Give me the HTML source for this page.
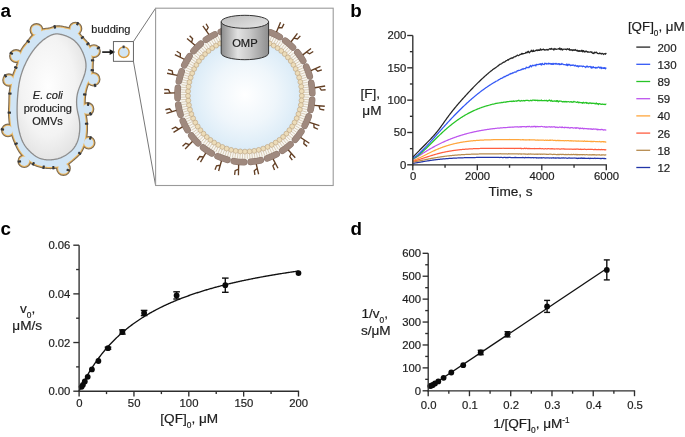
<!DOCTYPE html>
<html><head><meta charset="utf-8"><style>
html,body{margin:0;padding:0;background:#fff;}
svg{display:block;}
text{font-family:"Liberation Sans", sans-serif;}
</style></head><body>
<svg style="will-change:transform" width="685" height="437" viewBox="0 0 685 437">
<rect width="685" height="437" fill="#fff"/>
<text x="0.6" y="17" font-size="18.8" text-anchor="start" font-weight="bold" font-style="normal" fill="#000" >a</text>
<text x="350.2" y="17" font-size="18.8" text-anchor="start" font-weight="bold" font-style="normal" fill="#000" >b</text>
<text x="0.4" y="234.6" font-size="18.8" text-anchor="start" font-weight="bold" font-style="normal" fill="#000" >c</text>
<text x="350.4" y="234.6" font-size="18.8" text-anchor="start" font-weight="bold" font-style="normal" fill="#000" >d</text>
<g>
<path d="M37.2,33.63 L38,33.13 L38.79,32.63 L39.58,32.14 L40.37,31.68 L41.15,31.26 L41.95,30.89 L42.75,30.57 L43.57,30.32 L44.41,30.13 L45.29,29.98 L46.19,29.85 L47.12,29.74 L48.06,29.62 L49.01,29.47 L49.96,29.28 L50.89,29.03 L51.81,28.74 L52.69,28.44 L53.56,28.14 L54.41,27.88 L55.26,27.66 L56.12,27.51 L57,27.42 L57.88,27.38 L58.78,27.38 L59.68,27.43 L60.59,27.52 L61.5,27.64 L62.4,27.8 L63.3,27.98 L64.19,28.18 L65.08,28.4 L65.97,28.63 L66.87,28.85 L67.79,29.06 L68.72,29.26 L69.67,29.42 L70.64,29.55 L71.6,29.67 L72.52,29.79 L73.39,29.96 L74.2,30.18 L74.92,30.48 L75.57,30.89 L76.18,31.42 L76.76,32.06 L77.33,32.77 L77.89,33.53 L78.46,34.3 L79.05,35.06 L79.64,35.79 L80.24,36.51 L80.85,37.22 L81.47,37.91 L82.11,38.59 L82.74,39.27 L83.38,39.94 L84.02,40.61 L84.66,41.28 L85.28,41.95 L85.89,42.64 L86.47,43.33 L87.04,44.04 L87.58,44.76 L88.09,45.51 L88.56,46.27 L89,47.05 L89.4,47.85 L89.76,48.66 L90.07,49.49 L90.34,50.34 L90.58,51.2 L90.79,52.08 L90.97,52.98 L91.14,53.88 L91.29,54.79 L91.43,55.7 L91.56,56.61 L91.67,57.52 L91.75,58.42 L91.82,59.32 L91.85,60.22 L91.85,61.12 L91.83,62.03 L91.79,62.95 L91.74,63.87 L91.69,64.8 L91.66,65.74 L91.64,66.68 L91.63,67.62 L91.63,68.55 L91.62,69.46 L91.59,70.37 L91.53,71.26 L91.42,72.14 L91.28,73.02 L91.09,73.89 L90.85,74.76 L90.59,75.62 L90.29,76.48 L89.96,77.33 L89.61,78.17 L89.25,79.01 L88.86,79.85 L88.47,80.69 L88.08,81.53 L87.69,82.38 L87.31,83.23 L86.95,84.1 L86.6,84.98 L86.28,85.87 L85.97,86.77 L85.69,87.67 L85.43,88.58 L85.19,89.49 L84.96,90.41 L84.76,91.33 L84.58,92.26 L84.42,93.19 L84.27,94.12 L84.14,95.05 L84.03,95.99 L83.94,96.92 L83.86,97.86 L83.79,98.79 L83.74,99.73 L83.7,100.66 L83.68,101.6 L83.66,102.53 L83.65,103.47 L83.65,104.4 L83.66,105.34 L83.67,106.28 L83.7,107.21 L83.74,108.15 L83.8,109.1 L83.87,110.04 L83.98,110.98 L84.1,111.91 L84.25,112.85 L84.42,113.77 L84.6,114.69 L84.79,115.6 L84.97,116.5 L85.14,117.4 L85.29,118.3 L85.42,119.2 L85.54,120.11 L85.63,121.02 L85.72,121.93 L85.78,122.84 L85.84,123.76 L85.88,124.68 L85.91,125.6 L85.93,126.51 L85.94,127.43 L85.93,128.35 L85.92,129.26 L85.89,130.18 L85.84,131.1 L85.79,132.01 L85.72,132.93 L85.63,133.84 L85.53,134.75 L85.42,135.66 L85.29,136.56 L85.15,137.46 L84.98,138.36 L84.8,139.25 L84.61,140.14 L84.4,141.03 L84.16,141.91 L83.92,142.79 L83.65,143.67 L83.36,144.54 L83.06,145.41 L82.74,146.27 L82.39,147.12 L82.03,147.96 L81.64,148.78 L81.22,149.59 L80.78,150.38 L80.32,151.14 L79.82,151.89 L79.29,152.6 L78.74,153.29 L78.14,153.96 L77.52,154.61 L76.88,155.24 L76.21,155.87 L75.52,156.48 L74.83,157.09 L74.13,157.7 L73.42,158.31 L72.72,158.92 L72.02,159.53 L71.32,160.13 L70.62,160.72 L69.91,161.3 L69.2,161.87 L68.48,162.42 L67.74,162.95 L66.98,163.46 L66.21,163.94 L65.42,164.39 L64.62,164.8 L63.81,165.17 L62.98,165.5 L62.15,165.78 L61.29,166.01 L60.42,166.19 L59.53,166.34 L58.63,166.46 L57.72,166.57 L56.8,166.67 L55.89,166.76 L54.97,166.84 L54.06,166.91 L53.15,166.96 L52.23,167 L51.32,167.02 L50.4,167.03 L49.48,167.01 L48.57,166.98 L47.66,166.93 L46.75,166.86 L45.84,166.77 L44.94,166.65 L44.04,166.51 L43.15,166.35 L42.26,166.17 L41.37,165.97 L40.49,165.74 L39.61,165.5 L38.73,165.24 L37.86,164.97 L36.99,164.68 L36.14,164.36 L35.3,164.03 L34.48,163.66 L33.69,163.26 L32.92,162.82 L32.17,162.34 L31.43,161.82 L30.7,161.28 L29.97,160.72 L29.25,160.14 L28.54,159.56 L27.83,158.97 L27.14,158.37 L26.45,157.77 L25.77,157.16 L25.1,156.53 L24.44,155.9 L23.79,155.25 L23.16,154.59 L22.56,153.92 L21.97,153.23 L21.41,152.53 L20.88,151.8 L20.37,151.06 L19.88,150.3 L19.42,149.52 L18.98,148.73 L18.55,147.92 L18.14,147.11 L17.74,146.28 L17.35,145.44 L16.97,144.6 L16.6,143.75 L16.22,142.9 L15.86,142.04 L15.5,141.19 L15.15,140.34 L14.81,139.48 L14.47,138.63 L14.15,137.77 L13.85,136.91 L13.55,136.04 L13.27,135.18 L13,134.3 L12.76,133.43 L12.52,132.54 L12.3,131.65 L12.1,130.76 L11.9,129.86 L11.72,128.96 L11.55,128.06 L11.39,127.15 L11.24,126.24 L11.09,125.33 L10.96,124.42 L10.84,123.51 L10.72,122.6 L10.62,121.69 L10.52,120.77 L10.43,119.85 L10.35,118.94 L10.27,118.02 L10.21,117.1 L10.16,116.18 L10.11,115.27 L10.08,114.35 L10.06,113.43 L10.05,112.52 L10.05,111.6 L10.07,110.68 L10.09,109.76 L10.12,108.84 L10.16,107.91 L10.19,106.99 L10.23,106.06 L10.27,105.14 L10.31,104.21 L10.34,103.27 L10.37,102.34 L10.39,101.41 L10.41,100.48 L10.42,99.55 L10.44,98.63 L10.46,97.7 L10.49,96.78 L10.52,95.86 L10.56,94.95 L10.62,94.03 L10.69,93.12 L10.78,92.21 L10.87,91.3 L10.99,90.39 L11.11,89.48 L11.24,88.57 L11.38,87.66 L11.53,86.75 L11.68,85.84 L11.85,84.93 L12.01,84.02 L12.19,83.11 L12.37,82.21 L12.56,81.31 L12.76,80.42 L12.98,79.53 L13.2,78.64 L13.45,77.76 L13.7,76.89 L13.97,76.01 L14.26,75.14 L14.56,74.28 L14.87,73.41 L15.2,72.55 L15.53,71.7 L15.87,70.84 L16.23,69.98 L16.58,69.12 L16.94,68.26 L17.28,67.39 L17.62,66.5 L17.93,65.61 L18.22,64.71 L18.48,63.8 L18.71,62.89 L18.92,61.98 L19.12,61.06 L19.31,60.15 L19.5,59.24 L19.69,58.34 L19.9,57.44 L20.12,56.54 L20.36,55.65 L20.63,54.77 L20.91,53.91 L21.22,53.05 L21.55,52.22 L21.91,51.4 L22.31,50.6 L22.73,49.83 L23.2,49.07 L23.69,48.33 L24.21,47.6 L24.76,46.88 L25.33,46.16 L25.91,45.45 L26.5,44.73 L27.1,44.01 L27.69,43.27 L28.28,42.53 L28.86,41.77 L29.42,41 L29.97,40.24 L30.51,39.48 L31.05,38.75 L31.61,38.05 L32.19,37.38 L32.79,36.76 L33.43,36.18 L34.12,35.64 L34.85,35.13 L35.61,34.63 L36.4,34.13 L37.2,33.64Z" fill="#d1e5f5" stroke="#7d6b52" stroke-width="4.2" stroke-linejoin="round"/>
<circle cx="36.5" cy="30.0" r="4.85" fill="#d1e5f5" stroke="#7d6b52" stroke-width="4.2"/>
<circle cx="75.4" cy="28.7" r="4.85" fill="#d1e5f5" stroke="#7d6b52" stroke-width="4.2"/>
<circle cx="93.9" cy="51.2" r="4.85" fill="#d1e5f5" stroke="#7d6b52" stroke-width="4.2"/>
<circle cx="93.2" cy="79.2" r="5.2" fill="#d1e5f5" stroke="#7d6b52" stroke-width="4.2"/>
<circle cx="87.45" cy="109.0" r="4.8" fill="#d1e5f5" stroke="#7d6b52" stroke-width="4.2"/>
<circle cx="88.7" cy="142.8" r="4.7" fill="#d1e5f5" stroke="#7d6b52" stroke-width="4.2"/>
<circle cx="63.45" cy="168.5" r="5.3" fill="#d1e5f5" stroke="#7d6b52" stroke-width="4.2"/>
<circle cx="24.3" cy="161.2" r="4.8" fill="#d1e5f5" stroke="#7d6b52" stroke-width="4.2"/>
<circle cx="7.95" cy="130.45" r="4.8" fill="#d1e5f5" stroke="#7d6b52" stroke-width="4.2"/>
<circle cx="8.9" cy="80.0" r="4.6" fill="#d1e5f5" stroke="#7d6b52" stroke-width="4.2"/>
<circle cx="16.1" cy="56.1" r="4.95" fill="#d1e5f5" stroke="#7d6b52" stroke-width="4.2"/>
<path d="M37.2,33.63 L38,33.13 L38.79,32.63 L39.58,32.14 L40.37,31.68 L41.15,31.26 L41.95,30.89 L42.75,30.57 L43.57,30.32 L44.41,30.13 L45.29,29.98 L46.19,29.85 L47.12,29.74 L48.06,29.62 L49.01,29.47 L49.96,29.28 L50.89,29.03 L51.81,28.74 L52.69,28.44 L53.56,28.14 L54.41,27.88 L55.26,27.66 L56.12,27.51 L57,27.42 L57.88,27.38 L58.78,27.38 L59.68,27.43 L60.59,27.52 L61.5,27.64 L62.4,27.8 L63.3,27.98 L64.19,28.18 L65.08,28.4 L65.97,28.63 L66.87,28.85 L67.79,29.06 L68.72,29.26 L69.67,29.42 L70.64,29.55 L71.6,29.67 L72.52,29.79 L73.39,29.96 L74.2,30.18 L74.92,30.48 L75.57,30.89 L76.18,31.42 L76.76,32.06 L77.33,32.77 L77.89,33.53 L78.46,34.3 L79.05,35.06 L79.64,35.79 L80.24,36.51 L80.85,37.22 L81.47,37.91 L82.11,38.59 L82.74,39.27 L83.38,39.94 L84.02,40.61 L84.66,41.28 L85.28,41.95 L85.89,42.64 L86.47,43.33 L87.04,44.04 L87.58,44.76 L88.09,45.51 L88.56,46.27 L89,47.05 L89.4,47.85 L89.76,48.66 L90.07,49.49 L90.34,50.34 L90.58,51.2 L90.79,52.08 L90.97,52.98 L91.14,53.88 L91.29,54.79 L91.43,55.7 L91.56,56.61 L91.67,57.52 L91.75,58.42 L91.82,59.32 L91.85,60.22 L91.85,61.12 L91.83,62.03 L91.79,62.95 L91.74,63.87 L91.69,64.8 L91.66,65.74 L91.64,66.68 L91.63,67.62 L91.63,68.55 L91.62,69.46 L91.59,70.37 L91.53,71.26 L91.42,72.14 L91.28,73.02 L91.09,73.89 L90.85,74.76 L90.59,75.62 L90.29,76.48 L89.96,77.33 L89.61,78.17 L89.25,79.01 L88.86,79.85 L88.47,80.69 L88.08,81.53 L87.69,82.38 L87.31,83.23 L86.95,84.1 L86.6,84.98 L86.28,85.87 L85.97,86.77 L85.69,87.67 L85.43,88.58 L85.19,89.49 L84.96,90.41 L84.76,91.33 L84.58,92.26 L84.42,93.19 L84.27,94.12 L84.14,95.05 L84.03,95.99 L83.94,96.92 L83.86,97.86 L83.79,98.79 L83.74,99.73 L83.7,100.66 L83.68,101.6 L83.66,102.53 L83.65,103.47 L83.65,104.4 L83.66,105.34 L83.67,106.28 L83.7,107.21 L83.74,108.15 L83.8,109.1 L83.87,110.04 L83.98,110.98 L84.1,111.91 L84.25,112.85 L84.42,113.77 L84.6,114.69 L84.79,115.6 L84.97,116.5 L85.14,117.4 L85.29,118.3 L85.42,119.2 L85.54,120.11 L85.63,121.02 L85.72,121.93 L85.78,122.84 L85.84,123.76 L85.88,124.68 L85.91,125.6 L85.93,126.51 L85.94,127.43 L85.93,128.35 L85.92,129.26 L85.89,130.18 L85.84,131.1 L85.79,132.01 L85.72,132.93 L85.63,133.84 L85.53,134.75 L85.42,135.66 L85.29,136.56 L85.15,137.46 L84.98,138.36 L84.8,139.25 L84.61,140.14 L84.4,141.03 L84.16,141.91 L83.92,142.79 L83.65,143.67 L83.36,144.54 L83.06,145.41 L82.74,146.27 L82.39,147.12 L82.03,147.96 L81.64,148.78 L81.22,149.59 L80.78,150.38 L80.32,151.14 L79.82,151.89 L79.29,152.6 L78.74,153.29 L78.14,153.96 L77.52,154.61 L76.88,155.24 L76.21,155.87 L75.52,156.48 L74.83,157.09 L74.13,157.7 L73.42,158.31 L72.72,158.92 L72.02,159.53 L71.32,160.13 L70.62,160.72 L69.91,161.3 L69.2,161.87 L68.48,162.42 L67.74,162.95 L66.98,163.46 L66.21,163.94 L65.42,164.39 L64.62,164.8 L63.81,165.17 L62.98,165.5 L62.15,165.78 L61.29,166.01 L60.42,166.19 L59.53,166.34 L58.63,166.46 L57.72,166.57 L56.8,166.67 L55.89,166.76 L54.97,166.84 L54.06,166.91 L53.15,166.96 L52.23,167 L51.32,167.02 L50.4,167.03 L49.48,167.01 L48.57,166.98 L47.66,166.93 L46.75,166.86 L45.84,166.77 L44.94,166.65 L44.04,166.51 L43.15,166.35 L42.26,166.17 L41.37,165.97 L40.49,165.74 L39.61,165.5 L38.73,165.24 L37.86,164.97 L36.99,164.68 L36.14,164.36 L35.3,164.03 L34.48,163.66 L33.69,163.26 L32.92,162.82 L32.17,162.34 L31.43,161.82 L30.7,161.28 L29.97,160.72 L29.25,160.14 L28.54,159.56 L27.83,158.97 L27.14,158.37 L26.45,157.77 L25.77,157.16 L25.1,156.53 L24.44,155.9 L23.79,155.25 L23.16,154.59 L22.56,153.92 L21.97,153.23 L21.41,152.53 L20.88,151.8 L20.37,151.06 L19.88,150.3 L19.42,149.52 L18.98,148.73 L18.55,147.92 L18.14,147.11 L17.74,146.28 L17.35,145.44 L16.97,144.6 L16.6,143.75 L16.22,142.9 L15.86,142.04 L15.5,141.19 L15.15,140.34 L14.81,139.48 L14.47,138.63 L14.15,137.77 L13.85,136.91 L13.55,136.04 L13.27,135.18 L13,134.3 L12.76,133.43 L12.52,132.54 L12.3,131.65 L12.1,130.76 L11.9,129.86 L11.72,128.96 L11.55,128.06 L11.39,127.15 L11.24,126.24 L11.09,125.33 L10.96,124.42 L10.84,123.51 L10.72,122.6 L10.62,121.69 L10.52,120.77 L10.43,119.85 L10.35,118.94 L10.27,118.02 L10.21,117.1 L10.16,116.18 L10.11,115.27 L10.08,114.35 L10.06,113.43 L10.05,112.52 L10.05,111.6 L10.07,110.68 L10.09,109.76 L10.12,108.84 L10.16,107.91 L10.19,106.99 L10.23,106.06 L10.27,105.14 L10.31,104.21 L10.34,103.27 L10.37,102.34 L10.39,101.41 L10.41,100.48 L10.42,99.55 L10.44,98.63 L10.46,97.7 L10.49,96.78 L10.52,95.86 L10.56,94.95 L10.62,94.03 L10.69,93.12 L10.78,92.21 L10.87,91.3 L10.99,90.39 L11.11,89.48 L11.24,88.57 L11.38,87.66 L11.53,86.75 L11.68,85.84 L11.85,84.93 L12.01,84.02 L12.19,83.11 L12.37,82.21 L12.56,81.31 L12.76,80.42 L12.98,79.53 L13.2,78.64 L13.45,77.76 L13.7,76.89 L13.97,76.01 L14.26,75.14 L14.56,74.28 L14.87,73.41 L15.2,72.55 L15.53,71.7 L15.87,70.84 L16.23,69.98 L16.58,69.12 L16.94,68.26 L17.28,67.39 L17.62,66.5 L17.93,65.61 L18.22,64.71 L18.48,63.8 L18.71,62.89 L18.92,61.98 L19.12,61.06 L19.31,60.15 L19.5,59.24 L19.69,58.34 L19.9,57.44 L20.12,56.54 L20.36,55.65 L20.63,54.77 L20.91,53.91 L21.22,53.05 L21.55,52.22 L21.91,51.4 L22.31,50.6 L22.73,49.83 L23.2,49.07 L23.69,48.33 L24.21,47.6 L24.76,46.88 L25.33,46.16 L25.91,45.45 L26.5,44.73 L27.1,44.01 L27.69,43.27 L28.28,42.53 L28.86,41.77 L29.42,41 L29.97,40.24 L30.51,39.48 L31.05,38.75 L31.61,38.05 L32.19,37.38 L32.79,36.76 L33.43,36.18 L34.12,35.64 L34.85,35.13 L35.61,34.63 L36.4,34.13 L37.2,33.64Z" fill="#d1e5f5" stroke="#ebb65e" stroke-width="2.0" stroke-linejoin="round"/>
<circle cx="36.5" cy="30.0" r="4.85" fill="#d1e5f5" stroke="#ebb65e" stroke-width="2.0"/>
<circle cx="75.4" cy="28.7" r="4.85" fill="#d1e5f5" stroke="#ebb65e" stroke-width="2.0"/>
<circle cx="93.9" cy="51.2" r="4.85" fill="#d1e5f5" stroke="#ebb65e" stroke-width="2.0"/>
<circle cx="93.2" cy="79.2" r="5.2" fill="#d1e5f5" stroke="#ebb65e" stroke-width="2.0"/>
<circle cx="87.45" cy="109.0" r="4.8" fill="#d1e5f5" stroke="#ebb65e" stroke-width="2.0"/>
<circle cx="88.7" cy="142.8" r="4.7" fill="#d1e5f5" stroke="#ebb65e" stroke-width="2.0"/>
<circle cx="63.45" cy="168.5" r="5.3" fill="#d1e5f5" stroke="#ebb65e" stroke-width="2.0"/>
<circle cx="24.3" cy="161.2" r="4.8" fill="#d1e5f5" stroke="#ebb65e" stroke-width="2.0"/>
<circle cx="7.95" cy="130.45" r="4.8" fill="#d1e5f5" stroke="#ebb65e" stroke-width="2.0"/>
<circle cx="8.9" cy="80.0" r="4.6" fill="#d1e5f5" stroke="#ebb65e" stroke-width="2.0"/>
<circle cx="16.1" cy="56.1" r="4.95" fill="#d1e5f5" stroke="#ebb65e" stroke-width="2.0"/>
<path d="M37.2,33.63 L38,33.13 L38.79,32.63 L39.58,32.14 L40.37,31.68 L41.15,31.26 L41.95,30.89 L42.75,30.57 L43.57,30.32 L44.41,30.13 L45.29,29.98 L46.19,29.85 L47.12,29.74 L48.06,29.62 L49.01,29.47 L49.96,29.28 L50.89,29.03 L51.81,28.74 L52.69,28.44 L53.56,28.14 L54.41,27.88 L55.26,27.66 L56.12,27.51 L57,27.42 L57.88,27.38 L58.78,27.38 L59.68,27.43 L60.59,27.52 L61.5,27.64 L62.4,27.8 L63.3,27.98 L64.19,28.18 L65.08,28.4 L65.97,28.63 L66.87,28.85 L67.79,29.06 L68.72,29.26 L69.67,29.42 L70.64,29.55 L71.6,29.67 L72.52,29.79 L73.39,29.96 L74.2,30.18 L74.92,30.48 L75.57,30.89 L76.18,31.42 L76.76,32.06 L77.33,32.77 L77.89,33.53 L78.46,34.3 L79.05,35.06 L79.64,35.79 L80.24,36.51 L80.85,37.22 L81.47,37.91 L82.11,38.59 L82.74,39.27 L83.38,39.94 L84.02,40.61 L84.66,41.28 L85.28,41.95 L85.89,42.64 L86.47,43.33 L87.04,44.04 L87.58,44.76 L88.09,45.51 L88.56,46.27 L89,47.05 L89.4,47.85 L89.76,48.66 L90.07,49.49 L90.34,50.34 L90.58,51.2 L90.79,52.08 L90.97,52.98 L91.14,53.88 L91.29,54.79 L91.43,55.7 L91.56,56.61 L91.67,57.52 L91.75,58.42 L91.82,59.32 L91.85,60.22 L91.85,61.12 L91.83,62.03 L91.79,62.95 L91.74,63.87 L91.69,64.8 L91.66,65.74 L91.64,66.68 L91.63,67.62 L91.63,68.55 L91.62,69.46 L91.59,70.37 L91.53,71.26 L91.42,72.14 L91.28,73.02 L91.09,73.89 L90.85,74.76 L90.59,75.62 L90.29,76.48 L89.96,77.33 L89.61,78.17 L89.25,79.01 L88.86,79.85 L88.47,80.69 L88.08,81.53 L87.69,82.38 L87.31,83.23 L86.95,84.1 L86.6,84.98 L86.28,85.87 L85.97,86.77 L85.69,87.67 L85.43,88.58 L85.19,89.49 L84.96,90.41 L84.76,91.33 L84.58,92.26 L84.42,93.19 L84.27,94.12 L84.14,95.05 L84.03,95.99 L83.94,96.92 L83.86,97.86 L83.79,98.79 L83.74,99.73 L83.7,100.66 L83.68,101.6 L83.66,102.53 L83.65,103.47 L83.65,104.4 L83.66,105.34 L83.67,106.28 L83.7,107.21 L83.74,108.15 L83.8,109.1 L83.87,110.04 L83.98,110.98 L84.1,111.91 L84.25,112.85 L84.42,113.77 L84.6,114.69 L84.79,115.6 L84.97,116.5 L85.14,117.4 L85.29,118.3 L85.42,119.2 L85.54,120.11 L85.63,121.02 L85.72,121.93 L85.78,122.84 L85.84,123.76 L85.88,124.68 L85.91,125.6 L85.93,126.51 L85.94,127.43 L85.93,128.35 L85.92,129.26 L85.89,130.18 L85.84,131.1 L85.79,132.01 L85.72,132.93 L85.63,133.84 L85.53,134.75 L85.42,135.66 L85.29,136.56 L85.15,137.46 L84.98,138.36 L84.8,139.25 L84.61,140.14 L84.4,141.03 L84.16,141.91 L83.92,142.79 L83.65,143.67 L83.36,144.54 L83.06,145.41 L82.74,146.27 L82.39,147.12 L82.03,147.96 L81.64,148.78 L81.22,149.59 L80.78,150.38 L80.32,151.14 L79.82,151.89 L79.29,152.6 L78.74,153.29 L78.14,153.96 L77.52,154.61 L76.88,155.24 L76.21,155.87 L75.52,156.48 L74.83,157.09 L74.13,157.7 L73.42,158.31 L72.72,158.92 L72.02,159.53 L71.32,160.13 L70.62,160.72 L69.91,161.3 L69.2,161.87 L68.48,162.42 L67.74,162.95 L66.98,163.46 L66.21,163.94 L65.42,164.39 L64.62,164.8 L63.81,165.17 L62.98,165.5 L62.15,165.78 L61.29,166.01 L60.42,166.19 L59.53,166.34 L58.63,166.46 L57.72,166.57 L56.8,166.67 L55.89,166.76 L54.97,166.84 L54.06,166.91 L53.15,166.96 L52.23,167 L51.32,167.02 L50.4,167.03 L49.48,167.01 L48.57,166.98 L47.66,166.93 L46.75,166.86 L45.84,166.77 L44.94,166.65 L44.04,166.51 L43.15,166.35 L42.26,166.17 L41.37,165.97 L40.49,165.74 L39.61,165.5 L38.73,165.24 L37.86,164.97 L36.99,164.68 L36.14,164.36 L35.3,164.03 L34.48,163.66 L33.69,163.26 L32.92,162.82 L32.17,162.34 L31.43,161.82 L30.7,161.28 L29.97,160.72 L29.25,160.14 L28.54,159.56 L27.83,158.97 L27.14,158.37 L26.45,157.77 L25.77,157.16 L25.1,156.53 L24.44,155.9 L23.79,155.25 L23.16,154.59 L22.56,153.92 L21.97,153.23 L21.41,152.53 L20.88,151.8 L20.37,151.06 L19.88,150.3 L19.42,149.52 L18.98,148.73 L18.55,147.92 L18.14,147.11 L17.74,146.28 L17.35,145.44 L16.97,144.6 L16.6,143.75 L16.22,142.9 L15.86,142.04 L15.5,141.19 L15.15,140.34 L14.81,139.48 L14.47,138.63 L14.15,137.77 L13.85,136.91 L13.55,136.04 L13.27,135.18 L13,134.3 L12.76,133.43 L12.52,132.54 L12.3,131.65 L12.1,130.76 L11.9,129.86 L11.72,128.96 L11.55,128.06 L11.39,127.15 L11.24,126.24 L11.09,125.33 L10.96,124.42 L10.84,123.51 L10.72,122.6 L10.62,121.69 L10.52,120.77 L10.43,119.85 L10.35,118.94 L10.27,118.02 L10.21,117.1 L10.16,116.18 L10.11,115.27 L10.08,114.35 L10.06,113.43 L10.05,112.52 L10.05,111.6 L10.07,110.68 L10.09,109.76 L10.12,108.84 L10.16,107.91 L10.19,106.99 L10.23,106.06 L10.27,105.14 L10.31,104.21 L10.34,103.27 L10.37,102.34 L10.39,101.41 L10.41,100.48 L10.42,99.55 L10.44,98.63 L10.46,97.7 L10.49,96.78 L10.52,95.86 L10.56,94.95 L10.62,94.03 L10.69,93.12 L10.78,92.21 L10.87,91.3 L10.99,90.39 L11.11,89.48 L11.24,88.57 L11.38,87.66 L11.53,86.75 L11.68,85.84 L11.85,84.93 L12.01,84.02 L12.19,83.11 L12.37,82.21 L12.56,81.31 L12.76,80.42 L12.98,79.53 L13.2,78.64 L13.45,77.76 L13.7,76.89 L13.97,76.01 L14.26,75.14 L14.56,74.28 L14.87,73.41 L15.2,72.55 L15.53,71.7 L15.87,70.84 L16.23,69.98 L16.58,69.12 L16.94,68.26 L17.28,67.39 L17.62,66.5 L17.93,65.61 L18.22,64.71 L18.48,63.8 L18.71,62.89 L18.92,61.98 L19.12,61.06 L19.31,60.15 L19.5,59.24 L19.69,58.34 L19.9,57.44 L20.12,56.54 L20.36,55.65 L20.63,54.77 L20.91,53.91 L21.22,53.05 L21.55,52.22 L21.91,51.4 L22.31,50.6 L22.73,49.83 L23.2,49.07 L23.69,48.33 L24.21,47.6 L24.76,46.88 L25.33,46.16 L25.91,45.45 L26.5,44.73 L27.1,44.01 L27.69,43.27 L28.28,42.53 L28.86,41.77 L29.42,41 L29.97,40.24 L30.51,39.48 L31.05,38.75 L31.61,38.05 L32.19,37.38 L32.79,36.76 L33.43,36.18 L34.12,35.64 L34.85,35.13 L35.61,34.63 L36.4,34.13 L37.2,33.64Z" fill="#d1e5f5"/>
<circle cx="36.5" cy="30.0" r="4.85" fill="#d1e5f5"/>
<circle cx="75.4" cy="28.7" r="4.85" fill="#d1e5f5"/>
<circle cx="93.9" cy="51.2" r="4.85" fill="#d1e5f5"/>
<circle cx="93.2" cy="79.2" r="5.2" fill="#d1e5f5"/>
<circle cx="87.45" cy="109.0" r="4.8" fill="#d1e5f5"/>
<circle cx="88.7" cy="142.8" r="4.7" fill="#d1e5f5"/>
<circle cx="63.45" cy="168.5" r="5.3" fill="#d1e5f5"/>
<circle cx="24.3" cy="161.2" r="4.8" fill="#d1e5f5"/>
<circle cx="7.95" cy="130.45" r="4.8" fill="#d1e5f5"/>
<circle cx="8.9" cy="80.0" r="4.6" fill="#d1e5f5"/>
<circle cx="16.1" cy="56.1" r="4.95" fill="#d1e5f5"/>
</g>
<defs><radialGradient id="cyto" cx="0.45" cy="0.42" r="0.6"><stop offset="0" stop-color="#fefefe"/><stop offset="0.65" stop-color="#f3f3f3"/><stop offset="1" stop-color="#e3e3e3"/></radialGradient><radialGradient id="ves" cx="0.5" cy="0.5" r="0.5"><stop offset="0" stop-color="#ffffff"/><stop offset="0.55" stop-color="#eff6fb"/><stop offset="1" stop-color="#daebf7"/></radialGradient><linearGradient id="cyl" x1="0" x2="1" y1="0" y2="0"><stop offset="0" stop-color="#8c8c8c"/><stop offset="0.35" stop-color="#e2e2e2"/><stop offset="0.6" stop-color="#c8c8c8"/><stop offset="1" stop-color="#8e8e8e"/></linearGradient><linearGradient id="cyltop" x1="0" x2="1" y1="0" y2="1"><stop offset="0" stop-color="#bdbdbd"/><stop offset="1" stop-color="#e6e6e6"/></linearGradient></defs>
<path d="M56.5,33.9 L57.29,33.9 L58.08,33.94 L58.87,34.03 L59.66,34.15 L60.45,34.31 L61.24,34.5 L62.03,34.7 L62.81,34.93 L63.59,35.16 L64.36,35.41 L65.13,35.67 L65.89,35.93 L66.64,36.21 L67.38,36.51 L68.12,36.82 L68.84,37.15 L69.56,37.5 L70.26,37.87 L70.96,38.26 L71.64,38.68 L72.31,39.12 L72.96,39.59 L73.6,40.07 L74.23,40.58 L74.84,41.1 L75.43,41.65 L76.01,42.2 L76.57,42.78 L77.11,43.37 L77.64,43.98 L78.15,44.6 L78.64,45.23 L79.11,45.88 L79.57,46.54 L80.01,47.21 L80.44,47.89 L80.84,48.58 L81.24,49.27 L81.61,49.98 L81.97,50.69 L82.32,51.41 L82.65,52.14 L82.97,52.88 L83.28,53.62 L83.57,54.36 L83.86,55.11 L84.13,55.87 L84.39,56.63 L84.64,57.39 L84.87,58.16 L85.09,58.93 L85.29,59.71 L85.46,60.49 L85.61,61.28 L85.74,62.07 L85.84,62.86 L85.92,63.66 L85.96,64.46 L85.98,65.26 L85.98,66.06 L85.95,66.86 L85.89,67.67 L85.81,68.47 L85.71,69.26 L85.59,70.06 L85.45,70.85 L85.28,71.63 L85.1,72.41 L84.9,73.19 L84.68,73.96 L84.45,74.72 L84.2,75.49 L83.94,76.25 L83.67,77 L83.39,77.75 L83.11,78.5 L82.81,79.24 L82.51,79.98 L82.21,80.72 L81.9,81.46 L81.59,82.2 L81.27,82.93 L80.96,83.67 L80.65,84.41 L80.35,85.14 L80.04,85.89 L79.75,86.63 L79.45,87.38 L79.17,88.13 L78.9,88.88 L78.64,89.64 L78.38,90.4 L78.15,91.17 L77.92,91.93 L77.71,92.71 L77.52,93.48 L77.35,94.26 L77.19,95.05 L77.06,95.84 L76.94,96.63 L76.84,97.42 L76.76,98.22 L76.7,99.02 L76.65,99.82 L76.62,100.62 L76.6,101.42 L76.6,102.22 L76.61,103.03 L76.64,103.83 L76.68,104.63 L76.73,105.43 L76.79,106.23 L76.87,107.02 L76.97,107.82 L77.08,108.61 L77.2,109.4 L77.33,110.19 L77.48,110.97 L77.64,111.76 L77.81,112.54 L77.99,113.32 L78.17,114.1 L78.34,114.88 L78.52,115.66 L78.69,116.44 L78.85,117.23 L79,118.01 L79.14,118.8 L79.27,119.59 L79.38,120.38 L79.48,121.18 L79.56,121.98 L79.64,122.77 L79.7,123.57 L79.74,124.37 L79.78,125.17 L79.8,125.97 L79.81,126.77 L79.8,127.57 L79.79,128.37 L79.76,129.17 L79.72,129.97 L79.66,130.77 L79.59,131.57 L79.51,132.37 L79.41,133.16 L79.31,133.96 L79.18,134.75 L79.05,135.54 L78.9,136.33 L78.73,137.11 L78.55,137.89 L78.35,138.67 L78.13,139.44 L77.89,140.2 L77.63,140.96 L77.36,141.71 L77.06,142.46 L76.73,143.2 L76.39,143.92 L76.02,144.64 L75.64,145.34 L75.23,146.04 L74.8,146.71 L74.35,147.38 L73.87,148.02 L73.38,148.65 L72.86,149.26 L72.32,149.86 L71.77,150.44 L71.2,151 L70.61,151.54 L70,152.07 L69.38,152.58 L68.75,153.08 L68.11,153.56 L67.45,154.03 L66.79,154.49 L66.12,154.93 L65.44,155.35 L64.75,155.76 L64.05,156.15 L63.34,156.53 L62.62,156.88 L61.89,157.22 L61.16,157.54 L60.42,157.83 L59.66,158.11 L58.9,158.36 L58.14,158.6 L57.37,158.82 L56.59,159.01 L55.8,159.18 L55.02,159.34 L54.22,159.47 L53.43,159.59 L52.63,159.69 L51.83,159.76 L51.03,159.82 L50.23,159.86 L49.43,159.87 L48.63,159.87 L47.83,159.84 L47.03,159.8 L46.23,159.73 L45.43,159.64 L44.63,159.52 L43.84,159.38 L43.05,159.22 L42.27,159.04 L41.49,158.82 L40.72,158.59 L39.96,158.33 L39.21,158.04 L38.47,157.73 L37.75,157.39 L37.04,157.02 L36.34,156.63 L35.66,156.21 L35,155.76 L34.35,155.3 L33.71,154.81 L33.09,154.31 L32.47,153.79 L31.86,153.26 L31.27,152.72 L30.68,152.17 L30.09,151.61 L29.52,151.05 L28.95,150.47 L28.39,149.89 L27.85,149.3 L27.31,148.7 L26.79,148.1 L26.28,147.48 L25.79,146.85 L25.32,146.21 L24.86,145.55 L24.43,144.88 L24.01,144.2 L23.61,143.51 L23.24,142.81 L22.87,142.09 L22.53,141.37 L22.2,140.64 L21.89,139.9 L21.59,139.15 L21.31,138.39 L21.04,137.64 L20.78,136.87 L20.53,136.11 L20.3,135.34 L20.07,134.57 L19.85,133.8 L19.65,133.02 L19.45,132.25 L19.26,131.47 L19.08,130.69 L18.91,129.91 L18.75,129.12 L18.6,128.34 L18.46,127.55 L18.32,126.76 L18.2,125.97 L18.08,125.18 L17.97,124.39 L17.87,123.6 L17.77,122.8 L17.69,122.01 L17.61,121.21 L17.53,120.41 L17.47,119.62 L17.41,118.82 L17.35,118.02 L17.3,117.22 L17.26,116.42 L17.23,115.62 L17.19,114.82 L17.17,114.02 L17.14,113.22 L17.13,112.42 L17.11,111.62 L17.1,110.82 L17.1,110.02 L17.1,109.22 L17.11,108.42 L17.11,107.62 L17.13,106.82 L17.14,106.02 L17.16,105.22 L17.19,104.42 L17.21,103.62 L17.24,102.82 L17.28,102.02 L17.32,101.22 L17.36,100.42 L17.4,99.63 L17.45,98.83 L17.5,98.03 L17.55,97.23 L17.61,96.43 L17.67,95.64 L17.74,94.84 L17.81,94.04 L17.88,93.24 L17.95,92.45 L18.03,91.65 L18.11,90.85 L18.2,90.06 L18.29,89.26 L18.39,88.47 L18.49,87.67 L18.59,86.88 L18.71,86.09 L18.82,85.29 L18.95,84.5 L19.08,83.71 L19.22,82.93 L19.37,82.14 L19.53,81.36 L19.69,80.57 L19.86,79.79 L20.04,79.01 L20.23,78.24 L20.43,77.46 L20.64,76.69 L20.85,75.91 L21.07,75.15 L21.3,74.38 L21.54,73.61 L21.79,72.85 L22.04,72.09 L22.3,71.33 L22.57,70.58 L22.85,69.83 L23.13,69.08 L23.42,68.33 L23.72,67.59 L24.02,66.85 L24.34,66.11 L24.66,65.38 L24.98,64.65 L25.32,63.92 L25.66,63.2 L26,62.47 L26.36,61.76 L26.72,61.04 L27.09,60.33 L27.46,59.63 L27.84,58.92 L28.23,58.22 L28.63,57.53 L29.03,56.84 L29.44,56.15 L29.86,55.47 L30.28,54.79 L30.72,54.11 L31.16,53.44 L31.61,52.78 L32.06,52.12 L32.52,51.47 L33,50.82 L33.47,50.17 L33.96,49.54 L34.46,48.9 L34.96,48.28 L35.47,47.66 L35.99,47.05 L36.51,46.45 L37.05,45.85 L37.59,45.26 L38.14,44.68 L38.69,44.11 L39.26,43.55 L39.83,42.99 L40.4,42.45 L40.99,41.91 L41.59,41.38 L42.2,40.87 L42.81,40.36 L43.44,39.86 L44.08,39.37 L44.73,38.89 L45.39,38.42 L46.06,37.96 L46.75,37.51 L47.45,37.07 L48.16,36.65 L48.88,36.24 L49.61,35.86 L50.35,35.51 L51.09,35.18 L51.85,34.88 L52.61,34.61 L53.38,34.39 L54.15,34.2 L54.93,34.05 L55.71,33.95 L56.5,33.9Z" fill="url(#cyto)" stroke="#8d8d8d" stroke-width="1.3"/>
<rect x="-1.7" y="-1.1" width="3.4" height="2.2" rx="0.5" fill="#34373b" transform="translate(54.8,26.9) rotate(78.53)"/>
<rect x="-1.7" y="-1.1" width="3.4" height="2.2" rx="0.5" fill="#34373b" transform="translate(77.6,23.7) rotate(-66.25)"/>
<rect x="-1.7" y="-1.1" width="3.4" height="2.2" rx="0.5" fill="#34373b" transform="translate(82.4,37.5) rotate(137.9)"/>
<rect x="-1.7" y="-1.1" width="3.4" height="2.2" rx="0.5" fill="#34373b" transform="translate(87.8,43.8) rotate(142.79)"/>
<rect x="-1.7" y="-1.1" width="3.4" height="2.2" rx="0.5" fill="#34373b" transform="translate(98.4,47.9) rotate(-36.25)"/>
<rect x="-1.7" y="-1.1" width="3.4" height="2.2" rx="0.5" fill="#34373b" transform="translate(92.6,60.3) rotate(178.7)"/>
<rect x="-1.7" y="-1.1" width="3.4" height="2.2" rx="0.5" fill="#34373b" transform="translate(92.3,70.2) rotate(183.83)"/>
<rect x="-1.7" y="-1.1" width="3.4" height="2.2" rx="0.5" fill="#34373b" transform="translate(95,85.4) rotate(73.81)"/>
<rect x="-1.7" y="-1.1" width="3.4" height="2.2" rx="0.5" fill="#34373b" transform="translate(84.7,94.5) rotate(188.39)"/>
<rect x="-1.7" y="-1.1" width="3.4" height="2.2" rx="0.5" fill="#34373b" transform="translate(88.2,104.2) rotate(-81.12)"/>
<rect x="-1.7" y="-1.1" width="3.4" height="2.2" rx="0.5" fill="#34373b" transform="translate(90.6,113.8) rotate(56.73)"/>
<rect x="-1.7" y="-1.1" width="3.4" height="2.2" rx="0.5" fill="#34373b" transform="translate(86.6,123.7) rotate(176.92)"/>
<rect x="-1.7" y="-1.1" width="3.4" height="2.2" rx="0.5" fill="#34373b" transform="translate(90.4,138) rotate(-70.5)"/>
<rect x="-1.7" y="-1.1" width="3.4" height="2.2" rx="0.5" fill="#34373b" transform="translate(79.7,153.3) rotate(217.62)"/>
<rect x="-1.7" y="-1.1" width="3.4" height="2.2" rx="0.5" fill="#34373b" transform="translate(68.2,170.1) rotate(18.62)"/>
<rect x="-1.7" y="-1.1" width="3.4" height="2.2" rx="0.5" fill="#34373b" transform="translate(53.4,167.7) rotate(267.18)"/>
<rect x="-1.7" y="-1.1" width="3.4" height="2.2" rx="0.5" fill="#34373b" transform="translate(43.6,167.2) rotate(-80.59)"/>
<rect x="-1.7" y="-1.1" width="3.4" height="2.2" rx="0.5" fill="#34373b" transform="translate(33.3,163.8) rotate(-61.61)"/>
<rect x="-1.7" y="-1.1" width="3.4" height="2.2" rx="0.5" fill="#34373b" transform="translate(19.4,161.5) rotate(176.5)"/>
<rect x="-1.7" y="-1.1" width="3.4" height="2.2" rx="0.5" fill="#34373b" transform="translate(16.1,143.7) rotate(-23.77)"/>
<rect x="-1.7" y="-1.1" width="3.4" height="2.2" rx="0.5" fill="#34373b" transform="translate(2.4,129.4) rotate(-169.29)"/>
<rect x="-1.7" y="-1.1" width="3.4" height="2.2" rx="0.5" fill="#34373b" transform="translate(9.3,112.6) rotate(-0.24)"/>
<rect x="-1.7" y="-1.1" width="3.4" height="2.2" rx="0.5" fill="#34373b" transform="translate(9.9,93.6) rotate(4.05)"/>
<rect x="-1.7" y="-1.1" width="3.4" height="2.2" rx="0.5" fill="#34373b" transform="translate(5.4,75.8) rotate(-129.81)"/>
<rect x="-1.7" y="-1.1" width="3.4" height="2.2" rx="0.5" fill="#34373b" transform="translate(15.8,67.5) rotate(21.49)"/>
<rect x="-1.7" y="-1.1" width="3.4" height="2.2" rx="0.5" fill="#34373b" transform="translate(11.3,53.3) rotate(-149.74)"/>
<rect x="-1.7" y="-1.1" width="3.4" height="2.2" rx="0.5" fill="#34373b" transform="translate(28.2,41.4) rotate(37.03)"/>
<text x="47.8" y="98.9" font-size="11" text-anchor="middle" font-weight="normal" font-style="italic" fill="#1e1e1e"  stroke="#1e1e1e" stroke-width="0.2">E. coli</text>
<text x="47.8" y="112" font-size="11" text-anchor="middle" font-weight="normal" font-style="normal" fill="#1e1e1e"  stroke="#1e1e1e" stroke-width="0.2">producing</text>
<text x="47.6" y="125.1" font-size="11" text-anchor="middle" font-weight="normal" font-style="normal" fill="#1e1e1e"  stroke="#1e1e1e" stroke-width="0.2">OMVs</text>
<text x="91.3" y="32.5" font-size="11" text-anchor="start" font-weight="normal" font-style="normal" fill="#1e1e1e"  stroke="#1e1e1e" stroke-width="0.2">budding</text>
<line x1="102.2" y1="52.1" x2="110.5" y2="52.1" stroke="#111" stroke-width="1.6" />
<path d="M115.2,52.1 L109.6,49.3 L109.6,54.9 Z" fill="#111"/>
<rect x="113.4" y="41.6" width="20" height="19.7" fill="none" stroke="#555" stroke-width="0.9"/>
<circle cx="123.8" cy="52.2" r="5.3" fill="#d1e5f5" stroke="#d99b3e" stroke-width="1.4"/>
<rect x="-1.4" y="-1.1" width="2.8" height="2.2" rx="0.5" fill="#3d4044" transform="translate(123.6,46.9) rotate(-90)"/>
<line x1="133.4" y1="41.6" x2="155.6" y2="8.2" stroke="#666" stroke-width="0.9" />
<line x1="133.4" y1="61.3" x2="155.6" y2="185.5" stroke="#666" stroke-width="0.9" />
<rect x="155.6" y="8.2" width="177.6" height="177.3" fill="none" stroke="#9a9a9a" stroke-width="1.1"/>
<circle cx="244.9" cy="94.7" r="56" fill="url(#ves)"/>
<circle cx="244.9" cy="94.7" r="61.4" fill="none" stroke="#f8f6f1" stroke-width="6.4"/>
<line x1="303.5" y1="94.7" x2="309.1" y2="94.7" stroke="#cdbfa6" stroke-width="0.75"/>
<line x1="303.45" y1="97" x2="309.05" y2="97.22" stroke="#cdbfa6" stroke-width="0.75"/>
<line x1="303.32" y1="99.3" x2="308.9" y2="99.74" stroke="#cdbfa6" stroke-width="0.75"/>
<line x1="303.09" y1="101.59" x2="308.65" y2="102.25" stroke="#cdbfa6" stroke-width="0.75"/>
<line x1="302.78" y1="103.87" x2="308.31" y2="104.74" stroke="#cdbfa6" stroke-width="0.75"/>
<line x1="302.37" y1="106.13" x2="307.87" y2="107.22" stroke="#cdbfa6" stroke-width="0.75"/>
<line x1="301.88" y1="108.38" x2="307.33" y2="109.69" stroke="#cdbfa6" stroke-width="0.75"/>
<line x1="301.3" y1="110.61" x2="306.69" y2="112.13" stroke="#cdbfa6" stroke-width="0.75"/>
<line x1="300.63" y1="112.81" x2="305.96" y2="114.54" stroke="#cdbfa6" stroke-width="0.75"/>
<line x1="299.88" y1="114.98" x2="305.13" y2="116.92" stroke="#cdbfa6" stroke-width="0.75"/>
<line x1="299.04" y1="117.13" x2="304.21" y2="119.27" stroke="#cdbfa6" stroke-width="0.75"/>
<line x1="298.12" y1="119.23" x2="303.2" y2="121.58" stroke="#cdbfa6" stroke-width="0.75"/>
<line x1="297.11" y1="121.3" x2="302.1" y2="123.85" stroke="#cdbfa6" stroke-width="0.75"/>
<line x1="296.03" y1="123.33" x2="300.91" y2="126.07" stroke="#cdbfa6" stroke-width="0.75"/>
<line x1="294.86" y1="125.32" x2="299.64" y2="128.24" stroke="#cdbfa6" stroke-width="0.75"/>
<line x1="293.62" y1="127.26" x2="298.28" y2="130.37" stroke="#cdbfa6" stroke-width="0.75"/>
<line x1="292.31" y1="129.14" x2="296.84" y2="132.44" stroke="#cdbfa6" stroke-width="0.75"/>
<line x1="290.92" y1="130.98" x2="295.32" y2="134.45" stroke="#cdbfa6" stroke-width="0.75"/>
<line x1="289.46" y1="132.76" x2="293.72" y2="136.39" stroke="#cdbfa6" stroke-width="0.75"/>
<line x1="287.93" y1="134.48" x2="292.04" y2="138.28" stroke="#cdbfa6" stroke-width="0.75"/>
<line x1="286.34" y1="136.14" x2="290.3" y2="140.1" stroke="#cdbfa6" stroke-width="0.75"/>
<line x1="284.68" y1="137.73" x2="288.48" y2="141.84" stroke="#cdbfa6" stroke-width="0.75"/>
<line x1="282.96" y1="139.26" x2="286.59" y2="143.52" stroke="#cdbfa6" stroke-width="0.75"/>
<line x1="281.18" y1="140.72" x2="284.65" y2="145.12" stroke="#cdbfa6" stroke-width="0.75"/>
<line x1="279.34" y1="142.11" x2="282.64" y2="146.64" stroke="#cdbfa6" stroke-width="0.75"/>
<line x1="277.46" y1="143.42" x2="280.57" y2="148.08" stroke="#cdbfa6" stroke-width="0.75"/>
<line x1="275.52" y1="144.66" x2="278.44" y2="149.44" stroke="#cdbfa6" stroke-width="0.75"/>
<line x1="273.53" y1="145.83" x2="276.27" y2="150.71" stroke="#cdbfa6" stroke-width="0.75"/>
<line x1="271.5" y1="146.91" x2="274.05" y2="151.9" stroke="#cdbfa6" stroke-width="0.75"/>
<line x1="269.43" y1="147.92" x2="271.78" y2="153" stroke="#cdbfa6" stroke-width="0.75"/>
<line x1="267.33" y1="148.84" x2="269.47" y2="154.01" stroke="#cdbfa6" stroke-width="0.75"/>
<line x1="265.18" y1="149.68" x2="267.12" y2="154.93" stroke="#cdbfa6" stroke-width="0.75"/>
<line x1="263.01" y1="150.43" x2="264.74" y2="155.76" stroke="#cdbfa6" stroke-width="0.75"/>
<line x1="260.81" y1="151.1" x2="262.33" y2="156.49" stroke="#cdbfa6" stroke-width="0.75"/>
<line x1="258.58" y1="151.68" x2="259.89" y2="157.13" stroke="#cdbfa6" stroke-width="0.75"/>
<line x1="256.33" y1="152.17" x2="257.42" y2="157.67" stroke="#cdbfa6" stroke-width="0.75"/>
<line x1="254.07" y1="152.58" x2="254.94" y2="158.11" stroke="#cdbfa6" stroke-width="0.75"/>
<line x1="251.79" y1="152.89" x2="252.45" y2="158.45" stroke="#cdbfa6" stroke-width="0.75"/>
<line x1="249.5" y1="153.12" x2="249.94" y2="158.7" stroke="#cdbfa6" stroke-width="0.75"/>
<line x1="247.2" y1="153.25" x2="247.42" y2="158.85" stroke="#cdbfa6" stroke-width="0.75"/>
<line x1="244.9" y1="153.3" x2="244.9" y2="158.9" stroke="#cdbfa6" stroke-width="0.75"/>
<line x1="242.6" y1="153.25" x2="242.38" y2="158.85" stroke="#cdbfa6" stroke-width="0.75"/>
<line x1="240.3" y1="153.12" x2="239.86" y2="158.7" stroke="#cdbfa6" stroke-width="0.75"/>
<line x1="238.01" y1="152.89" x2="237.35" y2="158.45" stroke="#cdbfa6" stroke-width="0.75"/>
<line x1="235.73" y1="152.58" x2="234.86" y2="158.11" stroke="#cdbfa6" stroke-width="0.75"/>
<line x1="233.47" y1="152.17" x2="232.38" y2="157.67" stroke="#cdbfa6" stroke-width="0.75"/>
<line x1="231.22" y1="151.68" x2="229.91" y2="157.13" stroke="#cdbfa6" stroke-width="0.75"/>
<line x1="228.99" y1="151.1" x2="227.47" y2="156.49" stroke="#cdbfa6" stroke-width="0.75"/>
<line x1="226.79" y1="150.43" x2="225.06" y2="155.76" stroke="#cdbfa6" stroke-width="0.75"/>
<line x1="224.62" y1="149.68" x2="222.68" y2="154.93" stroke="#cdbfa6" stroke-width="0.75"/>
<line x1="222.47" y1="148.84" x2="220.33" y2="154.01" stroke="#cdbfa6" stroke-width="0.75"/>
<line x1="220.37" y1="147.92" x2="218.02" y2="153" stroke="#cdbfa6" stroke-width="0.75"/>
<line x1="218.3" y1="146.91" x2="215.75" y2="151.9" stroke="#cdbfa6" stroke-width="0.75"/>
<line x1="216.27" y1="145.83" x2="213.53" y2="150.71" stroke="#cdbfa6" stroke-width="0.75"/>
<line x1="214.28" y1="144.66" x2="211.36" y2="149.44" stroke="#cdbfa6" stroke-width="0.75"/>
<line x1="212.34" y1="143.42" x2="209.23" y2="148.08" stroke="#cdbfa6" stroke-width="0.75"/>
<line x1="210.46" y1="142.11" x2="207.16" y2="146.64" stroke="#cdbfa6" stroke-width="0.75"/>
<line x1="208.62" y1="140.72" x2="205.15" y2="145.12" stroke="#cdbfa6" stroke-width="0.75"/>
<line x1="206.84" y1="139.26" x2="203.21" y2="143.52" stroke="#cdbfa6" stroke-width="0.75"/>
<line x1="205.12" y1="137.73" x2="201.32" y2="141.84" stroke="#cdbfa6" stroke-width="0.75"/>
<line x1="203.46" y1="136.14" x2="199.5" y2="140.1" stroke="#cdbfa6" stroke-width="0.75"/>
<line x1="201.87" y1="134.48" x2="197.76" y2="138.28" stroke="#cdbfa6" stroke-width="0.75"/>
<line x1="200.34" y1="132.76" x2="196.08" y2="136.39" stroke="#cdbfa6" stroke-width="0.75"/>
<line x1="198.88" y1="130.98" x2="194.48" y2="134.45" stroke="#cdbfa6" stroke-width="0.75"/>
<line x1="197.49" y1="129.14" x2="192.96" y2="132.44" stroke="#cdbfa6" stroke-width="0.75"/>
<line x1="196.18" y1="127.26" x2="191.52" y2="130.37" stroke="#cdbfa6" stroke-width="0.75"/>
<line x1="194.94" y1="125.32" x2="190.16" y2="128.24" stroke="#cdbfa6" stroke-width="0.75"/>
<line x1="193.77" y1="123.33" x2="188.89" y2="126.07" stroke="#cdbfa6" stroke-width="0.75"/>
<line x1="192.69" y1="121.3" x2="187.7" y2="123.85" stroke="#cdbfa6" stroke-width="0.75"/>
<line x1="191.68" y1="119.23" x2="186.6" y2="121.58" stroke="#cdbfa6" stroke-width="0.75"/>
<line x1="190.76" y1="117.13" x2="185.59" y2="119.27" stroke="#cdbfa6" stroke-width="0.75"/>
<line x1="189.92" y1="114.98" x2="184.67" y2="116.92" stroke="#cdbfa6" stroke-width="0.75"/>
<line x1="189.17" y1="112.81" x2="183.84" y2="114.54" stroke="#cdbfa6" stroke-width="0.75"/>
<line x1="188.5" y1="110.61" x2="183.11" y2="112.13" stroke="#cdbfa6" stroke-width="0.75"/>
<line x1="187.92" y1="108.38" x2="182.47" y2="109.69" stroke="#cdbfa6" stroke-width="0.75"/>
<line x1="187.43" y1="106.13" x2="181.93" y2="107.22" stroke="#cdbfa6" stroke-width="0.75"/>
<line x1="187.02" y1="103.87" x2="181.49" y2="104.74" stroke="#cdbfa6" stroke-width="0.75"/>
<line x1="186.71" y1="101.59" x2="181.15" y2="102.25" stroke="#cdbfa6" stroke-width="0.75"/>
<line x1="186.48" y1="99.3" x2="180.9" y2="99.74" stroke="#cdbfa6" stroke-width="0.75"/>
<line x1="186.35" y1="97" x2="180.75" y2="97.22" stroke="#cdbfa6" stroke-width="0.75"/>
<line x1="186.3" y1="94.7" x2="180.7" y2="94.7" stroke="#cdbfa6" stroke-width="0.75"/>
<line x1="186.35" y1="92.4" x2="180.75" y2="92.18" stroke="#cdbfa6" stroke-width="0.75"/>
<line x1="186.48" y1="90.1" x2="180.9" y2="89.66" stroke="#cdbfa6" stroke-width="0.75"/>
<line x1="186.71" y1="87.81" x2="181.15" y2="87.15" stroke="#cdbfa6" stroke-width="0.75"/>
<line x1="187.02" y1="85.53" x2="181.49" y2="84.66" stroke="#cdbfa6" stroke-width="0.75"/>
<line x1="187.43" y1="83.27" x2="181.93" y2="82.18" stroke="#cdbfa6" stroke-width="0.75"/>
<line x1="187.92" y1="81.02" x2="182.47" y2="79.71" stroke="#cdbfa6" stroke-width="0.75"/>
<line x1="188.5" y1="78.79" x2="183.11" y2="77.27" stroke="#cdbfa6" stroke-width="0.75"/>
<line x1="189.17" y1="76.59" x2="183.84" y2="74.86" stroke="#cdbfa6" stroke-width="0.75"/>
<line x1="189.92" y1="74.42" x2="184.67" y2="72.48" stroke="#cdbfa6" stroke-width="0.75"/>
<line x1="190.76" y1="72.27" x2="185.59" y2="70.13" stroke="#cdbfa6" stroke-width="0.75"/>
<line x1="191.68" y1="70.17" x2="186.6" y2="67.82" stroke="#cdbfa6" stroke-width="0.75"/>
<line x1="192.69" y1="68.1" x2="187.7" y2="65.55" stroke="#cdbfa6" stroke-width="0.75"/>
<line x1="193.77" y1="66.07" x2="188.89" y2="63.33" stroke="#cdbfa6" stroke-width="0.75"/>
<line x1="194.94" y1="64.08" x2="190.16" y2="61.16" stroke="#cdbfa6" stroke-width="0.75"/>
<line x1="196.18" y1="62.14" x2="191.52" y2="59.03" stroke="#cdbfa6" stroke-width="0.75"/>
<line x1="197.49" y1="60.26" x2="192.96" y2="56.96" stroke="#cdbfa6" stroke-width="0.75"/>
<line x1="198.88" y1="58.42" x2="194.48" y2="54.95" stroke="#cdbfa6" stroke-width="0.75"/>
<line x1="200.34" y1="56.64" x2="196.08" y2="53.01" stroke="#cdbfa6" stroke-width="0.75"/>
<line x1="201.87" y1="54.92" x2="197.76" y2="51.12" stroke="#cdbfa6" stroke-width="0.75"/>
<line x1="203.46" y1="53.26" x2="199.5" y2="49.3" stroke="#cdbfa6" stroke-width="0.75"/>
<line x1="205.12" y1="51.67" x2="201.32" y2="47.56" stroke="#cdbfa6" stroke-width="0.75"/>
<line x1="206.84" y1="50.14" x2="203.21" y2="45.88" stroke="#cdbfa6" stroke-width="0.75"/>
<line x1="208.62" y1="48.68" x2="205.15" y2="44.28" stroke="#cdbfa6" stroke-width="0.75"/>
<line x1="210.46" y1="47.29" x2="207.16" y2="42.76" stroke="#cdbfa6" stroke-width="0.75"/>
<line x1="212.34" y1="45.98" x2="209.23" y2="41.32" stroke="#cdbfa6" stroke-width="0.75"/>
<line x1="214.28" y1="44.74" x2="211.36" y2="39.96" stroke="#cdbfa6" stroke-width="0.75"/>
<line x1="216.27" y1="43.57" x2="213.53" y2="38.69" stroke="#cdbfa6" stroke-width="0.75"/>
<line x1="218.3" y1="42.49" x2="215.75" y2="37.5" stroke="#cdbfa6" stroke-width="0.75"/>
<line x1="220.37" y1="41.48" x2="218.02" y2="36.4" stroke="#cdbfa6" stroke-width="0.75"/>
<line x1="222.47" y1="40.56" x2="220.33" y2="35.39" stroke="#cdbfa6" stroke-width="0.75"/>
<line x1="224.62" y1="39.72" x2="222.68" y2="34.47" stroke="#cdbfa6" stroke-width="0.75"/>
<line x1="226.79" y1="38.97" x2="225.06" y2="33.64" stroke="#cdbfa6" stroke-width="0.75"/>
<line x1="228.99" y1="38.3" x2="227.47" y2="32.91" stroke="#cdbfa6" stroke-width="0.75"/>
<line x1="231.22" y1="37.72" x2="229.91" y2="32.27" stroke="#cdbfa6" stroke-width="0.75"/>
<line x1="233.47" y1="37.23" x2="232.38" y2="31.73" stroke="#cdbfa6" stroke-width="0.75"/>
<line x1="235.73" y1="36.82" x2="234.86" y2="31.29" stroke="#cdbfa6" stroke-width="0.75"/>
<line x1="238.01" y1="36.51" x2="237.35" y2="30.95" stroke="#cdbfa6" stroke-width="0.75"/>
<line x1="240.3" y1="36.28" x2="239.86" y2="30.7" stroke="#cdbfa6" stroke-width="0.75"/>
<line x1="242.6" y1="36.15" x2="242.38" y2="30.55" stroke="#cdbfa6" stroke-width="0.75"/>
<line x1="244.9" y1="36.1" x2="244.9" y2="30.5" stroke="#cdbfa6" stroke-width="0.75"/>
<line x1="247.2" y1="36.15" x2="247.42" y2="30.55" stroke="#cdbfa6" stroke-width="0.75"/>
<line x1="249.5" y1="36.28" x2="249.94" y2="30.7" stroke="#cdbfa6" stroke-width="0.75"/>
<line x1="251.79" y1="36.51" x2="252.45" y2="30.95" stroke="#cdbfa6" stroke-width="0.75"/>
<line x1="254.07" y1="36.82" x2="254.94" y2="31.29" stroke="#cdbfa6" stroke-width="0.75"/>
<line x1="256.33" y1="37.23" x2="257.42" y2="31.73" stroke="#cdbfa6" stroke-width="0.75"/>
<line x1="258.58" y1="37.72" x2="259.89" y2="32.27" stroke="#cdbfa6" stroke-width="0.75"/>
<line x1="260.81" y1="38.3" x2="262.33" y2="32.91" stroke="#cdbfa6" stroke-width="0.75"/>
<line x1="263.01" y1="38.97" x2="264.74" y2="33.64" stroke="#cdbfa6" stroke-width="0.75"/>
<line x1="265.18" y1="39.72" x2="267.12" y2="34.47" stroke="#cdbfa6" stroke-width="0.75"/>
<line x1="267.33" y1="40.56" x2="269.47" y2="35.39" stroke="#cdbfa6" stroke-width="0.75"/>
<line x1="269.43" y1="41.48" x2="271.78" y2="36.4" stroke="#cdbfa6" stroke-width="0.75"/>
<line x1="271.5" y1="42.49" x2="274.05" y2="37.5" stroke="#cdbfa6" stroke-width="0.75"/>
<line x1="273.53" y1="43.57" x2="276.27" y2="38.69" stroke="#cdbfa6" stroke-width="0.75"/>
<line x1="275.52" y1="44.74" x2="278.44" y2="39.96" stroke="#cdbfa6" stroke-width="0.75"/>
<line x1="277.46" y1="45.98" x2="280.57" y2="41.32" stroke="#cdbfa6" stroke-width="0.75"/>
<line x1="279.34" y1="47.29" x2="282.64" y2="42.76" stroke="#cdbfa6" stroke-width="0.75"/>
<line x1="281.18" y1="48.68" x2="284.65" y2="44.28" stroke="#cdbfa6" stroke-width="0.75"/>
<line x1="282.96" y1="50.14" x2="286.59" y2="45.88" stroke="#cdbfa6" stroke-width="0.75"/>
<line x1="284.68" y1="51.67" x2="288.48" y2="47.56" stroke="#cdbfa6" stroke-width="0.75"/>
<line x1="286.34" y1="53.26" x2="290.3" y2="49.3" stroke="#cdbfa6" stroke-width="0.75"/>
<line x1="287.93" y1="54.92" x2="292.04" y2="51.12" stroke="#cdbfa6" stroke-width="0.75"/>
<line x1="289.46" y1="56.64" x2="293.72" y2="53.01" stroke="#cdbfa6" stroke-width="0.75"/>
<line x1="290.92" y1="58.42" x2="295.32" y2="54.95" stroke="#cdbfa6" stroke-width="0.75"/>
<line x1="292.31" y1="60.26" x2="296.84" y2="56.96" stroke="#cdbfa6" stroke-width="0.75"/>
<line x1="293.62" y1="62.14" x2="298.28" y2="59.03" stroke="#cdbfa6" stroke-width="0.75"/>
<line x1="294.86" y1="64.08" x2="299.64" y2="61.16" stroke="#cdbfa6" stroke-width="0.75"/>
<line x1="296.03" y1="66.07" x2="300.91" y2="63.33" stroke="#cdbfa6" stroke-width="0.75"/>
<line x1="297.11" y1="68.1" x2="302.1" y2="65.55" stroke="#cdbfa6" stroke-width="0.75"/>
<line x1="298.12" y1="70.17" x2="303.2" y2="67.82" stroke="#cdbfa6" stroke-width="0.75"/>
<line x1="299.04" y1="72.27" x2="304.21" y2="70.13" stroke="#cdbfa6" stroke-width="0.75"/>
<line x1="299.88" y1="74.42" x2="305.13" y2="72.48" stroke="#cdbfa6" stroke-width="0.75"/>
<line x1="300.63" y1="76.59" x2="305.96" y2="74.86" stroke="#cdbfa6" stroke-width="0.75"/>
<line x1="301.3" y1="78.79" x2="306.69" y2="77.27" stroke="#cdbfa6" stroke-width="0.75"/>
<line x1="301.88" y1="81.02" x2="307.33" y2="79.71" stroke="#cdbfa6" stroke-width="0.75"/>
<line x1="302.37" y1="83.27" x2="307.87" y2="82.18" stroke="#cdbfa6" stroke-width="0.75"/>
<line x1="302.78" y1="85.53" x2="308.31" y2="84.66" stroke="#cdbfa6" stroke-width="0.75"/>
<line x1="303.09" y1="87.81" x2="308.65" y2="87.15" stroke="#cdbfa6" stroke-width="0.75"/>
<line x1="303.32" y1="90.1" x2="308.9" y2="89.66" stroke="#cdbfa6" stroke-width="0.75"/>
<line x1="303.45" y1="92.4" x2="309.05" y2="92.18" stroke="#cdbfa6" stroke-width="0.75"/>
<circle cx="301.79" cy="95.84" r="2.45" fill="#ecdcb9" stroke="#b89e78" stroke-width="0.6"/>
<circle cx="301.51" cy="100.47" r="2.45" fill="#ecdcb9" stroke="#b89e78" stroke-width="0.6"/>
<circle cx="300.85" cy="105.07" r="2.45" fill="#ecdcb9" stroke="#b89e78" stroke-width="0.6"/>
<circle cx="299.82" cy="109.59" r="2.45" fill="#ecdcb9" stroke="#b89e78" stroke-width="0.6"/>
<circle cx="298.42" cy="114.02" r="2.45" fill="#ecdcb9" stroke="#b89e78" stroke-width="0.6"/>
<circle cx="296.67" cy="118.32" r="2.45" fill="#ecdcb9" stroke="#b89e78" stroke-width="0.6"/>
<circle cx="294.57" cy="122.46" r="2.45" fill="#ecdcb9" stroke="#b89e78" stroke-width="0.6"/>
<circle cx="292.14" cy="126.41" r="2.45" fill="#ecdcb9" stroke="#b89e78" stroke-width="0.6"/>
<circle cx="289.4" cy="130.16" r="2.45" fill="#ecdcb9" stroke="#b89e78" stroke-width="0.6"/>
<circle cx="286.36" cy="133.67" r="2.45" fill="#ecdcb9" stroke="#b89e78" stroke-width="0.6"/>
<circle cx="283.05" cy="136.92" r="2.45" fill="#ecdcb9" stroke="#b89e78" stroke-width="0.6"/>
<circle cx="279.48" cy="139.89" r="2.45" fill="#ecdcb9" stroke="#b89e78" stroke-width="0.6"/>
<circle cx="275.68" cy="142.56" r="2.45" fill="#ecdcb9" stroke="#b89e78" stroke-width="0.6"/>
<circle cx="271.68" cy="144.9" r="2.45" fill="#ecdcb9" stroke="#b89e78" stroke-width="0.6"/>
<circle cx="267.5" cy="146.92" r="2.45" fill="#ecdcb9" stroke="#b89e78" stroke-width="0.6"/>
<circle cx="263.17" cy="148.59" r="2.45" fill="#ecdcb9" stroke="#b89e78" stroke-width="0.6"/>
<circle cx="258.71" cy="149.9" r="2.45" fill="#ecdcb9" stroke="#b89e78" stroke-width="0.6"/>
<circle cx="254.17" cy="150.84" r="2.45" fill="#ecdcb9" stroke="#b89e78" stroke-width="0.6"/>
<circle cx="249.56" cy="151.41" r="2.45" fill="#ecdcb9" stroke="#b89e78" stroke-width="0.6"/>
<circle cx="244.92" cy="151.6" r="2.45" fill="#ecdcb9" stroke="#b89e78" stroke-width="0.6"/>
<circle cx="240.28" cy="151.41" r="2.45" fill="#ecdcb9" stroke="#b89e78" stroke-width="0.6"/>
<circle cx="235.68" cy="150.85" r="2.45" fill="#ecdcb9" stroke="#b89e78" stroke-width="0.6"/>
<circle cx="231.13" cy="149.91" r="2.45" fill="#ecdcb9" stroke="#b89e78" stroke-width="0.6"/>
<circle cx="226.68" cy="148.6" r="2.45" fill="#ecdcb9" stroke="#b89e78" stroke-width="0.6"/>
<circle cx="222.34" cy="146.94" r="2.45" fill="#ecdcb9" stroke="#b89e78" stroke-width="0.6"/>
<circle cx="218.16" cy="144.93" r="2.45" fill="#ecdcb9" stroke="#b89e78" stroke-width="0.6"/>
<circle cx="214.16" cy="142.58" r="2.45" fill="#ecdcb9" stroke="#b89e78" stroke-width="0.6"/>
<circle cx="210.36" cy="139.91" r="2.45" fill="#ecdcb9" stroke="#b89e78" stroke-width="0.6"/>
<circle cx="206.79" cy="136.95" r="2.45" fill="#ecdcb9" stroke="#b89e78" stroke-width="0.6"/>
<circle cx="203.47" cy="133.7" r="2.45" fill="#ecdcb9" stroke="#b89e78" stroke-width="0.6"/>
<circle cx="200.43" cy="130.19" r="2.45" fill="#ecdcb9" stroke="#b89e78" stroke-width="0.6"/>
<circle cx="197.68" cy="126.45" r="2.45" fill="#ecdcb9" stroke="#b89e78" stroke-width="0.6"/>
<circle cx="195.25" cy="122.5" r="2.45" fill="#ecdcb9" stroke="#b89e78" stroke-width="0.6"/>
<circle cx="193.15" cy="118.36" r="2.45" fill="#ecdcb9" stroke="#b89e78" stroke-width="0.6"/>
<circle cx="191.4" cy="114.06" r="2.45" fill="#ecdcb9" stroke="#b89e78" stroke-width="0.6"/>
<circle cx="190" cy="109.64" r="2.45" fill="#ecdcb9" stroke="#b89e78" stroke-width="0.6"/>
<circle cx="188.96" cy="105.11" r="2.45" fill="#ecdcb9" stroke="#b89e78" stroke-width="0.6"/>
<circle cx="188.3" cy="100.52" r="2.45" fill="#ecdcb9" stroke="#b89e78" stroke-width="0.6"/>
<circle cx="188.01" cy="95.88" r="2.45" fill="#ecdcb9" stroke="#b89e78" stroke-width="0.6"/>
<circle cx="188.11" cy="91.24" r="2.45" fill="#ecdcb9" stroke="#b89e78" stroke-width="0.6"/>
<circle cx="188.58" cy="86.62" r="2.45" fill="#ecdcb9" stroke="#b89e78" stroke-width="0.6"/>
<circle cx="189.42" cy="82.06" r="2.45" fill="#ecdcb9" stroke="#b89e78" stroke-width="0.6"/>
<circle cx="190.64" cy="77.58" r="2.45" fill="#ecdcb9" stroke="#b89e78" stroke-width="0.6"/>
<circle cx="192.21" cy="73.21" r="2.45" fill="#ecdcb9" stroke="#b89e78" stroke-width="0.6"/>
<circle cx="194.14" cy="68.99" r="2.45" fill="#ecdcb9" stroke="#b89e78" stroke-width="0.6"/>
<circle cx="196.4" cy="64.94" r="2.45" fill="#ecdcb9" stroke="#b89e78" stroke-width="0.6"/>
<circle cx="198.99" cy="61.09" r="2.45" fill="#ecdcb9" stroke="#b89e78" stroke-width="0.6"/>
<circle cx="201.88" cy="57.46" r="2.45" fill="#ecdcb9" stroke="#b89e78" stroke-width="0.6"/>
<circle cx="205.06" cy="54.07" r="2.45" fill="#ecdcb9" stroke="#b89e78" stroke-width="0.6"/>
<circle cx="208.51" cy="50.96" r="2.45" fill="#ecdcb9" stroke="#b89e78" stroke-width="0.6"/>
<circle cx="212.19" cy="48.14" r="2.45" fill="#ecdcb9" stroke="#b89e78" stroke-width="0.6"/>
<circle cx="216.1" cy="45.63" r="2.45" fill="#ecdcb9" stroke="#b89e78" stroke-width="0.6"/>
<circle cx="220.19" cy="43.44" r="2.45" fill="#ecdcb9" stroke="#b89e78" stroke-width="0.6"/>
<circle cx="224.45" cy="41.6" r="2.45" fill="#ecdcb9" stroke="#b89e78" stroke-width="0.6"/>
<circle cx="228.85" cy="40.11" r="2.45" fill="#ecdcb9" stroke="#b89e78" stroke-width="0.6"/>
<circle cx="233.35" cy="38.98" r="2.45" fill="#ecdcb9" stroke="#b89e78" stroke-width="0.6"/>
<circle cx="237.93" cy="38.23" r="2.45" fill="#ecdcb9" stroke="#b89e78" stroke-width="0.6"/>
<circle cx="242.56" cy="37.85" r="2.45" fill="#ecdcb9" stroke="#b89e78" stroke-width="0.6"/>
<circle cx="247.2" cy="37.85" r="2.45" fill="#ecdcb9" stroke="#b89e78" stroke-width="0.6"/>
<circle cx="251.82" cy="38.22" r="2.45" fill="#ecdcb9" stroke="#b89e78" stroke-width="0.6"/>
<circle cx="256.4" cy="38.98" r="2.45" fill="#ecdcb9" stroke="#b89e78" stroke-width="0.6"/>
<circle cx="260.91" cy="40.1" r="2.45" fill="#ecdcb9" stroke="#b89e78" stroke-width="0.6"/>
<circle cx="265.31" cy="41.58" r="2.45" fill="#ecdcb9" stroke="#b89e78" stroke-width="0.6"/>
<circle cx="269.57" cy="43.43" r="2.45" fill="#ecdcb9" stroke="#b89e78" stroke-width="0.6"/>
<circle cx="273.66" cy="45.61" r="2.45" fill="#ecdcb9" stroke="#b89e78" stroke-width="0.6"/>
<circle cx="277.57" cy="48.11" r="2.45" fill="#ecdcb9" stroke="#b89e78" stroke-width="0.6"/>
<circle cx="281.26" cy="50.93" r="2.45" fill="#ecdcb9" stroke="#b89e78" stroke-width="0.6"/>
<circle cx="284.71" cy="54.04" r="2.45" fill="#ecdcb9" stroke="#b89e78" stroke-width="0.6"/>
<circle cx="287.89" cy="57.42" r="2.45" fill="#ecdcb9" stroke="#b89e78" stroke-width="0.6"/>
<circle cx="290.78" cy="61.05" r="2.45" fill="#ecdcb9" stroke="#b89e78" stroke-width="0.6"/>
<circle cx="293.37" cy="64.9" r="2.45" fill="#ecdcb9" stroke="#b89e78" stroke-width="0.6"/>
<circle cx="295.64" cy="68.95" r="2.45" fill="#ecdcb9" stroke="#b89e78" stroke-width="0.6"/>
<circle cx="297.57" cy="73.17" r="2.45" fill="#ecdcb9" stroke="#b89e78" stroke-width="0.6"/>
<circle cx="299.15" cy="77.54" r="2.45" fill="#ecdcb9" stroke="#b89e78" stroke-width="0.6"/>
<circle cx="300.37" cy="82.02" r="2.45" fill="#ecdcb9" stroke="#b89e78" stroke-width="0.6"/>
<circle cx="301.22" cy="86.58" r="2.45" fill="#ecdcb9" stroke="#b89e78" stroke-width="0.6"/>
<circle cx="301.69" cy="91.2" r="2.45" fill="#ecdcb9" stroke="#b89e78" stroke-width="0.6"/>
<path d="M205.93,39.71 A67.4,67.4 0 0 1 214.85,34.37" fill="none" stroke="#8c766b" stroke-width="6.6" stroke-linecap="round"/>
<path d="M205.93,39.71 A67.4,67.4 0 0 1 214.85,34.37" fill="none" stroke="#9f897e" stroke-width="5.6" stroke-linecap="round"/>
<path d="M220.83,31.74 A67.4,67.4 0 0 1 230.8,28.79" fill="none" stroke="#8c766b" stroke-width="6.6" stroke-linecap="round"/>
<path d="M220.83,31.74 A67.4,67.4 0 0 1 230.8,28.79" fill="none" stroke="#9f897e" stroke-width="5.6" stroke-linecap="round"/>
<path d="M237.25,27.74 A67.4,67.4 0 0 1 247.63,27.36" fill="none" stroke="#8c766b" stroke-width="6.6" stroke-linecap="round"/>
<path d="M237.25,27.74 A67.4,67.4 0 0 1 247.63,27.36" fill="none" stroke="#9f897e" stroke-width="5.6" stroke-linecap="round"/>
<path d="M254.14,27.94 A67.4,67.4 0 0 1 264.29,30.15" fill="none" stroke="#8c766b" stroke-width="6.6" stroke-linecap="round"/>
<path d="M254.14,27.94 A67.4,67.4 0 0 1 264.29,30.15" fill="none" stroke="#9f897e" stroke-width="5.6" stroke-linecap="round"/>
<path d="M270.45,32.33 A67.4,67.4 0 0 1 279.74,37" fill="none" stroke="#8c766b" stroke-width="6.6" stroke-linecap="round"/>
<path d="M270.45,32.33 A67.4,67.4 0 0 1 279.74,37" fill="none" stroke="#9f897e" stroke-width="5.6" stroke-linecap="round"/>
<path d="M285.16,40.65 A67.4,67.4 0 0 1 292.99,47.48" fill="none" stroke="#8c766b" stroke-width="6.6" stroke-linecap="round"/>
<path d="M285.16,40.65 A67.4,67.4 0 0 1 292.99,47.48" fill="none" stroke="#9f897e" stroke-width="5.6" stroke-linecap="round"/>
<path d="M297.34,52.36 A67.4,67.4 0 0 1 303.22,60.92" fill="none" stroke="#8c766b" stroke-width="6.6" stroke-linecap="round"/>
<path d="M297.34,52.36 A67.4,67.4 0 0 1 303.22,60.92" fill="none" stroke="#9f897e" stroke-width="5.6" stroke-linecap="round"/>
<path d="M306.22,66.73 A67.4,67.4 0 0 1 309.79,76.48" fill="none" stroke="#8c766b" stroke-width="6.6" stroke-linecap="round"/>
<path d="M306.22,66.73 A67.4,67.4 0 0 1 309.79,76.48" fill="none" stroke="#9f897e" stroke-width="5.6" stroke-linecap="round"/>
<path d="M311.25,82.86 A67.4,67.4 0 0 1 312.28,93.2" fill="none" stroke="#8c766b" stroke-width="6.6" stroke-linecap="round"/>
<path d="M311.25,82.86 A67.4,67.4 0 0 1 312.28,93.2" fill="none" stroke="#9f897e" stroke-width="5.6" stroke-linecap="round"/>
<path d="M312.11,99.73 A67.4,67.4 0 0 1 310.54,110" fill="none" stroke="#8c766b" stroke-width="6.6" stroke-linecap="round"/>
<path d="M312.11,99.73 A67.4,67.4 0 0 1 310.54,110" fill="none" stroke="#9f897e" stroke-width="5.6" stroke-linecap="round"/>
<path d="M308.75,116.29 A67.4,67.4 0 0 1 304.67,125.84" fill="none" stroke="#8c766b" stroke-width="6.6" stroke-linecap="round"/>
<path d="M308.75,116.29 A67.4,67.4 0 0 1 304.67,125.84" fill="none" stroke="#9f897e" stroke-width="5.6" stroke-linecap="round"/>
<path d="M301.38,131.49 A67.4,67.4 0 0 1 295.05,139.73" fill="none" stroke="#8c766b" stroke-width="6.6" stroke-linecap="round"/>
<path d="M301.38,131.49 A67.4,67.4 0 0 1 295.05,139.73" fill="none" stroke="#9f897e" stroke-width="5.6" stroke-linecap="round"/>
<path d="M290.45,144.38 A67.4,67.4 0 0 1 282.28,150.79" fill="none" stroke="#8c766b" stroke-width="6.6" stroke-linecap="round"/>
<path d="M290.45,144.38 A67.4,67.4 0 0 1 282.28,150.79" fill="none" stroke="#9f897e" stroke-width="5.6" stroke-linecap="round"/>
<path d="M276.67,154.14 A67.4,67.4 0 0 1 267.15,158.32" fill="none" stroke="#8c766b" stroke-width="6.6" stroke-linecap="round"/>
<path d="M276.67,154.14 A67.4,67.4 0 0 1 267.15,158.32" fill="none" stroke="#9f897e" stroke-width="5.6" stroke-linecap="round"/>
<path d="M260.89,160.18 A67.4,67.4 0 0 1 250.63,161.86" fill="none" stroke="#8c766b" stroke-width="6.6" stroke-linecap="round"/>
<path d="M260.89,160.18 A67.4,67.4 0 0 1 250.63,161.86" fill="none" stroke="#9f897e" stroke-width="5.6" stroke-linecap="round"/>
<path d="M244.1,162.1 A67.4,67.4 0 0 1 233.75,161.17" fill="none" stroke="#8c766b" stroke-width="6.6" stroke-linecap="round"/>
<path d="M244.1,162.1 A67.4,67.4 0 0 1 233.75,161.17" fill="none" stroke="#9f897e" stroke-width="5.6" stroke-linecap="round"/>
<path d="M227.37,159.78 A67.4,67.4 0 0 1 217.57,156.31" fill="none" stroke="#8c766b" stroke-width="6.6" stroke-linecap="round"/>
<path d="M227.37,159.78 A67.4,67.4 0 0 1 217.57,156.31" fill="none" stroke="#9f897e" stroke-width="5.6" stroke-linecap="round"/>
<path d="M211.73,153.37 A67.4,67.4 0 0 1 203.11,147.58" fill="none" stroke="#8c766b" stroke-width="6.6" stroke-linecap="round"/>
<path d="M211.73,153.37 A67.4,67.4 0 0 1 203.11,147.58" fill="none" stroke="#9f897e" stroke-width="5.6" stroke-linecap="round"/>
<path d="M198.18,143.28 A67.4,67.4 0 0 1 191.27,135.52" fill="none" stroke="#8c766b" stroke-width="6.6" stroke-linecap="round"/>
<path d="M198.18,143.28 A67.4,67.4 0 0 1 191.27,135.52" fill="none" stroke="#9f897e" stroke-width="5.6" stroke-linecap="round"/>
<path d="M187.57,130.14 A67.4,67.4 0 0 1 182.8,120.9" fill="none" stroke="#8c766b" stroke-width="6.6" stroke-linecap="round"/>
<path d="M187.57,130.14 A67.4,67.4 0 0 1 182.8,120.9" fill="none" stroke="#9f897e" stroke-width="5.6" stroke-linecap="round"/>
<path d="M180.56,114.77 A67.4,67.4 0 0 1 178.24,104.64" fill="none" stroke="#8c766b" stroke-width="6.6" stroke-linecap="round"/>
<path d="M180.56,114.77 A67.4,67.4 0 0 1 178.24,104.64" fill="none" stroke="#9f897e" stroke-width="5.6" stroke-linecap="round"/>
<path d="M177.59,98.13 A67.4,67.4 0 0 1 177.86,87.75" fill="none" stroke="#8c766b" stroke-width="6.6" stroke-linecap="round"/>
<path d="M177.59,98.13 A67.4,67.4 0 0 1 177.86,87.75" fill="none" stroke="#9f897e" stroke-width="5.6" stroke-linecap="round"/>
<path d="M178.85,81.29 A67.4,67.4 0 0 1 181.69,71.29" fill="none" stroke="#8c766b" stroke-width="6.6" stroke-linecap="round"/>
<path d="M178.85,81.29 A67.4,67.4 0 0 1 181.69,71.29" fill="none" stroke="#9f897e" stroke-width="5.6" stroke-linecap="round"/>
<path d="M184.26,65.28 A67.4,67.4 0 0 1 189.5,56.31" fill="none" stroke="#8c766b" stroke-width="6.6" stroke-linecap="round"/>
<path d="M184.26,65.28 A67.4,67.4 0 0 1 189.5,56.31" fill="none" stroke="#9f897e" stroke-width="5.6" stroke-linecap="round"/>
<path d="M193.48,51.12 A67.4,67.4 0 0 1 200.79,43.74" fill="none" stroke="#8c766b" stroke-width="6.6" stroke-linecap="round"/>
<path d="M193.48,51.12 A67.4,67.4 0 0 1 200.79,43.74" fill="none" stroke="#9f897e" stroke-width="5.6" stroke-linecap="round"/>
<path d="M208.8,34.38 L202.86,25.81 M206.32,30.62 L208.19,27.52 L206.07,23.78" fill="none" stroke="#633f24" stroke-width="1.35" stroke-linecap="butt" stroke-linejoin="miter"/>
<path d="M276.49,31.9 L280.53,22.29 M278.33,27.79 L281.95,27.71 L283.97,23.91" fill="none" stroke="#633f24" stroke-width="1.35" stroke-linecap="butt" stroke-linejoin="miter"/>
<path d="M291.11,41.72 L297.42,33.43 M293.92,38.2 L297.45,39.02 L300.35,35.85" fill="none" stroke="#633f24" stroke-width="1.35" stroke-linecap="butt" stroke-linejoin="miter"/>
<path d="M302.84,54.88 L311.01,48.41 M306.43,52.17 L309.64,53.84 L313.25,51.49" fill="none" stroke="#633f24" stroke-width="1.35" stroke-linecap="butt" stroke-linejoin="miter"/>
<path d="M310.92,70.54 L320.44,66.31 M315.08,68.81 L317.77,71.23 L321.84,69.84" fill="none" stroke="#633f24" stroke-width="1.35" stroke-linecap="butt" stroke-linejoin="miter"/>
<path d="M314.85,87.72 L325.13,85.99 M319.31,87.07 L321.32,90.09 L325.61,89.76" fill="none" stroke="#633f24" stroke-width="1.35" stroke-linecap="butt" stroke-linejoin="miter"/>
<path d="M314.39,105.33 L324.78,106.21 M318.87,105.82 L320.07,109.24 L324.3,109.99" fill="none" stroke="#633f24" stroke-width="1.35" stroke-linecap="butt" stroke-linejoin="miter"/>
<path d="M309.56,122.28 L319.4,125.72 M313.78,123.86 L314.09,127.47 L318.01,129.25" fill="none" stroke="#633f24" stroke-width="1.35" stroke-linecap="butt" stroke-linejoin="miter"/>
<path d="M300.67,137.5 L309.35,143.27 M304.36,140.08 L303.77,143.65 L307.12,146.35" fill="none" stroke="#633f24" stroke-width="1.35" stroke-linecap="butt" stroke-linejoin="miter"/>
<path d="M288.28,150.02 L295.25,157.77 M291.21,153.44 L289.74,156.75 L292.32,160.2" fill="none" stroke="#633f24" stroke-width="1.35" stroke-linecap="butt" stroke-linejoin="miter"/>
<path d="M273.16,159.07 L277.98,168.31 M275.15,163.11 L272.9,165.95 L274.54,169.93" fill="none" stroke="#633f24" stroke-width="1.35" stroke-linecap="butt" stroke-linejoin="miter"/>
<path d="M256.26,164.08 L258.63,174.23 M257.19,168.48 L254.3,170.68 L254.9,174.94" fill="none" stroke="#633f24" stroke-width="1.35" stroke-linecap="butt" stroke-linejoin="miter"/>
<path d="M238.65,164.72 L238.42,175.14 M238.45,169.22 L235.11,170.63 L234.63,174.9" fill="none" stroke="#633f24" stroke-width="1.35" stroke-linecap="butt" stroke-linejoin="miter"/>
<path d="M221.43,160.97 L218.62,171 M220.12,165.28 L216.54,165.81 L215.01,169.83" fill="none" stroke="#633f24" stroke-width="1.35" stroke-linecap="butt" stroke-linejoin="miter"/>
<path d="M205.69,153.05 L200.47,162.07 M203.35,156.9 L199.74,156.52 L197.26,160.04" fill="none" stroke="#633f24" stroke-width="1.35" stroke-linecap="butt" stroke-linejoin="miter"/>
<path d="M192.41,141.47 L185.11,148.91 M189.18,144.61 L185.79,143.35 L182.51,146.14" fill="none" stroke="#633f24" stroke-width="1.35" stroke-linecap="butt" stroke-linejoin="miter"/>
<path d="M182.43,126.94 L173.51,132.34 M178.52,129.18 L175.54,127.12 L171.68,129" fill="none" stroke="#633f24" stroke-width="1.35" stroke-linecap="butt" stroke-linejoin="miter"/>
<path d="M176.37,110.39 L166.39,113.4 M172.03,111.59 L169.66,108.85 L165.45,109.72" fill="none" stroke="#633f24" stroke-width="1.35" stroke-linecap="butt" stroke-linejoin="miter"/>
<path d="M174.62,92.86 L164.21,93.29 M170.12,92.94 L168.5,89.7 L164.21,89.49" fill="none" stroke="#633f24" stroke-width="1.35" stroke-linecap="butt" stroke-linejoin="miter"/>
<path d="M177.29,75.44 L167.1,73.26 M172.91,74.4 L172.15,70.86 L168.04,69.58" fill="none" stroke="#633f24" stroke-width="1.35" stroke-linecap="butt" stroke-linejoin="miter"/>
<path d="M184.2,59.23 L174.87,54.59 M180.22,57.13 L180.36,53.51 L176.7,51.26" fill="none" stroke="#633f24" stroke-width="1.35" stroke-linecap="butt" stroke-linejoin="miter"/>
<path d="M194.93,45.25 L187.05,38.43 M191.59,42.23 L192.63,38.76 L189.65,35.66" fill="none" stroke="#633f24" stroke-width="1.35" stroke-linecap="butt" stroke-linejoin="miter"/>
<path d="M221.2,21.8 L221.2,53.1 A23.7,6.6 0 0 0 268.6,53.1 L268.6,21.8 Z" fill="url(#cyl)" stroke="#333" stroke-width="1"/>
<ellipse cx="244.9" cy="21.8" rx="23.7" ry="6.5" fill="url(#cyltop)" stroke="#333" stroke-width="1"/>
<text x="244.9" y="46.6" font-size="11.2" text-anchor="middle" font-weight="normal" font-style="normal" fill="#1a1a1a"  stroke="#1a1a1a" stroke-width="0.2">OMP</text>
<path d="M412.8,163.29 L413.3,163.25 L413.8,163.19 L414.3,163.12 L414.8,163.05 L415.3,162.97 L415.8,162.89 L416.3,162.8 L416.8,162.72 L417.3,162.63 L417.8,162.55 L418.3,162.46 L418.8,162.37 L419.3,162.29 L419.8,162.2 L420.3,162.11 L420.8,162.02 L421.3,161.93 L421.8,161.85 L422.3,161.76 L422.8,161.67 L423.3,161.59 L423.8,161.5 L424.3,161.42 L424.8,161.33 L425.3,161.25 L425.8,161.17 L426.3,161.08 L426.8,161 L427.3,160.92 L427.8,160.85 L428.3,160.77 L428.8,160.69 L429.3,160.62 L429.8,160.54 L430.3,160.47 L430.8,160.39 L431.3,160.32 L431.8,160.25 L432.3,160.18 L432.8,160.12 L433.3,160.05 L433.8,159.98 L434.3,159.92 L434.8,159.85 L435.3,159.79 L435.8,159.73 L436.3,159.67 L436.8,159.61 L437.3,159.55 L437.8,159.49 L438.3,159.44 L438.8,159.38 L439.3,159.33 L439.8,159.28 L440.3,159.22 L440.8,159.17 L441.3,159.12 L441.8,159.07 L442.3,159.03 L442.8,158.98 L443.3,158.93 L443.8,158.89 L444.3,158.84 L444.8,158.8 L445.3,158.76 L445.8,158.72 L446.3,158.68 L446.8,158.64 L447.3,158.6 L447.8,158.56 L448.3,158.52 L448.8,158.49 L449.3,158.45 L449.8,158.42 L450.3,158.39 L450.8,158.35 L451.3,158.32 L451.8,158.29 L452.3,158.26 L452.8,158.23 L453.3,158.2 L453.8,158.17 L454.3,158.15 L454.8,158.12 L455.3,158.09 L455.8,158.07 L456.3,158.04 L456.8,158.02 L457.3,158 L457.8,157.98 L458.3,157.95 L458.8,157.93 L459.3,157.91 L459.8,157.89 L460.3,157.87 L460.8,157.85 L461.3,157.83 L461.8,157.82 L462.3,157.8 L462.8,157.78 L463.3,157.77 L463.8,157.75 L464.3,157.73 L464.8,157.72 L465.3,157.71 L465.8,157.69 L466.3,157.68 L466.8,157.67 L467.3,157.65 L467.8,157.64 L468.3,157.63 L468.8,157.62 L469.3,157.61 L469.8,157.6 L470.3,157.59 L470.8,157.58 L471.3,157.57 L471.8,157.56 L472.3,157.55 L472.8,157.54 L473.3,157.53 L473.8,157.53 L474.3,157.52 L474.8,157.51 L475.3,157.51 L475.8,157.5 L476.3,157.49 L476.8,157.49 L477.3,157.48 L477.8,157.48 L478.3,157.47 L478.8,157.47 L479.3,157.46 L479.8,157.46 L480.3,157.45 L480.8,157.45 L481.3,157.45 L481.8,157.44 L482.3,157.44 L482.8,157.44 L483.3,157.44 L483.8,157.43 L484.3,157.43 L484.8,157.43 L485.3,157.43 L485.8,157.42 L486.3,157.43 L486.8,157.43 L487.3,157.42 L487.8,157.43 L488.3,157.42 L488.8,157.42 L489.3,157.4 L489.8,157.42 L490.3,157.42 L490.8,157.41 L491.3,157.41 L491.8,157.41 L492.3,157.42 L492.8,157.44 L493.3,157.42 L493.8,157.42 L494.3,157.45 L494.8,157.45 L495.3,157.48 L495.8,157.37 L496.3,157.46 L496.8,157.42 L497.3,157.44 L497.8,157.47 L498.3,157.48 L498.8,157.48 L499.3,157.45 L499.8,157.51 L500.3,157.44 L500.8,157.45 L501.3,157.49 L501.8,157.43 L502.3,157.56 L502.8,157.51 L503.3,157.57 L503.8,157.47 L504.3,157.45 L504.8,157.48 L505.3,157.52 L505.8,157.45 L506.3,157.51 L506.8,157.49 L507.3,157.59 L507.8,157.46 L508.3,157.56 L508.8,157.46 L509.3,157.44 L509.8,157.46 L510.3,157.43 L510.8,157.53 L511.3,157.59 L511.8,157.54 L512.3,157.58 L512.8,157.66 L513.3,157.56 L513.8,157.56 L514.3,157.53 L514.8,157.42 L515.3,157.62 L515.8,157.42 L516.3,157.62 L516.8,157.57 L517.3,157.67 L517.8,157.57 L518.3,157.51 L518.8,157.62 L519.3,157.54 L519.8,157.58 L520.3,157.6 L520.8,157.59 L521.3,157.59 L521.8,157.53 L522.3,157.6 L522.8,157.41 L523.3,157.61 L523.8,157.51 L524.3,157.76 L524.8,157.78 L525.3,157.44 L525.8,157.67 L526.3,157.64 L526.8,157.55 L527.3,157.73 L527.8,157.62 L528.3,157.47 L528.8,157.65 L529.3,157.67 L529.8,157.71 L530.3,157.55 L530.8,157.78 L531.3,157.8 L531.8,157.58 L532.3,157.64 L532.8,157.71 L533.3,157.66 L533.8,157.94 L534.3,157.76 L534.8,157.62 L535.3,157.66 L535.8,157.75 L536.3,158.04 L536.8,157.74 L537.3,157.79 L537.8,157.84 L538.3,157.78 L538.8,158.06 L539.3,157.73 L539.8,157.89 L540.3,157.82 L540.8,157.88 L541.3,157.67 L541.8,158.03 L542.3,157.81 L542.8,157.83 L543.3,157.72 L543.8,157.75 L544.3,157.91 L544.8,157.97 L545.3,157.95 L545.8,158.01 L546.3,157.95 L546.8,157.88 L547.3,157.98 L547.8,157.95 L548.3,157.88 L548.8,157.98 L549.3,158.05 L549.8,157.93 L550.3,157.87 L550.8,158 L551.3,158.15 L551.8,157.9 L552.3,157.92 L552.8,157.92 L553.3,158.09 L553.8,157.73 L554.3,158 L554.8,158.1 L555.3,157.87 L555.8,158.15 L556.3,158.04 L556.8,157.91 L557.3,158.01 L557.8,157.81 L558.3,157.93 L558.8,158.22 L559.3,157.9 L559.8,158.23 L560.3,158.01 L560.8,158.14 L561.3,158.03 L561.8,157.76 L562.3,157.97 L562.8,158.07 L563.3,157.91 L563.8,157.89 L564.3,158.1 L564.8,157.99 L565.3,157.87 L565.8,157.99 L566.3,158.18 L566.8,158.03 L567.3,158.2 L567.8,158.28 L568.3,158.11 L568.8,157.97 L569.3,157.96 L569.8,158.11 L570.3,158.23 L570.8,158.16 L571.3,158.2 L571.8,158.09 L572.3,158.18 L572.8,158.09 L573.3,158.12 L573.8,158 L574.3,157.98 L574.8,158.11 L575.3,158.04 L575.8,158.07 L576.3,158.27 L576.8,158.18 L577.3,158.55 L577.8,158.31 L578.3,158.13 L578.8,158.31 L579.3,158.26 L579.8,158.14 L580.3,158.36 L580.8,158.14 L581.3,157.87 L581.8,158.34 L582.3,158.17 L582.8,158.43 L583.3,158.18 L583.8,158.12 L584.3,158.45 L584.8,158.15 L585.3,158.3 L585.8,158.46 L586.3,158.3 L586.8,158.28 L587.3,158.31 L587.8,158.41 L588.3,158.21 L588.8,158.39 L589.3,158.39 L589.8,158.61 L590.3,158.29 L590.8,158.23 L591.3,158.43 L591.8,158.3 L592.3,158.39 L592.8,158.37 L593.3,158.5 L593.8,158.29 L594.3,158.36 L594.8,158.07 L595.3,158.27 L595.8,158.57 L596.3,158.31 L596.8,158.31 L597.3,158.25 L597.8,158.47 L598.3,158.43 L598.8,158.27 L599.3,158.5 L599.8,158.46 L600.3,158.52 L600.8,158.36 L601.3,158.65 L601.8,158.49 L602.3,158.44 L602.8,158.39 L603.3,158.43 L603.8,158.57 L604.3,158.44 L604.8,158.6 L605.3,158.55 L605.8,158.65 L606.3,158.59" fill="none" stroke="#2235a8" stroke-width="1.25" stroke-linejoin="round"/>
<path d="M412.8,162 L413.3,161.96 L413.8,161.9 L414.3,161.84 L414.8,161.76 L415.3,161.68 L415.8,161.6 L416.3,161.51 L416.8,161.42 L417.3,161.33 L417.8,161.23 L418.3,161.14 L418.8,161.04 L419.3,160.94 L419.8,160.84 L420.3,160.73 L420.8,160.63 L421.3,160.53 L421.8,160.42 L422.3,160.32 L422.8,160.21 L423.3,160.11 L423.8,160 L424.3,159.9 L424.8,159.79 L425.3,159.69 L425.8,159.59 L426.3,159.48 L426.8,159.38 L427.3,159.28 L427.8,159.18 L428.3,159.08 L428.8,158.98 L429.3,158.88 L429.8,158.78 L430.3,158.68 L430.8,158.58 L431.3,158.49 L431.8,158.39 L432.3,158.3 L432.8,158.21 L433.3,158.11 L433.8,158.02 L434.3,157.93 L434.8,157.84 L435.3,157.76 L435.8,157.67 L436.3,157.59 L436.8,157.5 L437.3,157.42 L437.8,157.34 L438.3,157.25 L438.8,157.18 L439.3,157.1 L439.8,157.02 L440.3,156.94 L440.8,156.87 L441.3,156.79 L441.8,156.72 L442.3,156.65 L442.8,156.58 L443.3,156.51 L443.8,156.44 L444.3,156.38 L444.8,156.31 L445.3,156.25 L445.8,156.18 L446.3,156.12 L446.8,156.06 L447.3,156 L447.8,155.94 L448.3,155.88 L448.8,155.83 L449.3,155.77 L449.8,155.71 L450.3,155.66 L450.8,155.61 L451.3,155.56 L451.8,155.51 L452.3,155.46 L452.8,155.41 L453.3,155.36 L453.8,155.32 L454.3,155.27 L454.8,155.23 L455.3,155.18 L455.8,155.14 L456.3,155.1 L456.8,155.06 L457.3,155.02 L457.8,154.98 L458.3,154.94 L458.8,154.9 L459.3,154.87 L459.8,154.83 L460.3,154.8 L460.8,154.76 L461.3,154.73 L461.8,154.7 L462.3,154.67 L462.8,154.64 L463.3,154.61 L463.8,154.58 L464.3,154.55 L464.8,154.52 L465.3,154.5 L465.8,154.47 L466.3,154.44 L466.8,154.42 L467.3,154.4 L467.8,154.37 L468.3,154.35 L468.8,154.33 L469.3,154.31 L469.8,154.29 L470.3,154.27 L470.8,154.25 L471.3,154.23 L471.8,154.21 L472.3,154.19 L472.8,154.17 L473.3,154.16 L473.8,154.14 L474.3,154.12 L474.8,154.11 L475.3,154.09 L475.8,154.08 L476.3,154.07 L476.8,154.05 L477.3,154.04 L477.8,154.03 L478.3,154.02 L478.8,154 L479.3,153.99 L479.8,153.98 L480.3,153.97 L480.8,153.96 L481.3,153.95 L481.8,153.94 L482.3,153.94 L482.8,153.93 L483.3,153.92 L483.8,153.91 L484.3,153.9 L484.8,153.9 L485.3,153.89 L485.8,153.88 L486.3,153.87 L486.8,153.88 L487.3,153.88 L487.8,153.86 L488.3,153.86 L488.8,153.86 L489.3,153.86 L489.8,153.83 L490.3,153.87 L490.8,153.83 L491.3,153.86 L491.8,153.84 L492.3,153.82 L492.8,153.83 L493.3,153.85 L493.8,153.81 L494.3,153.81 L494.8,153.81 L495.3,153.77 L495.8,153.86 L496.3,153.84 L496.8,153.82 L497.3,153.86 L497.8,153.79 L498.3,153.82 L498.8,153.88 L499.3,153.86 L499.8,153.73 L500.3,153.69 L500.8,153.78 L501.3,153.87 L501.8,153.8 L502.3,153.82 L502.8,153.86 L503.3,153.79 L503.8,153.84 L504.3,153.87 L504.8,153.86 L505.3,153.86 L505.8,153.81 L506.3,153.87 L506.8,153.82 L507.3,153.93 L507.8,154.01 L508.3,153.81 L508.8,153.72 L509.3,153.83 L509.8,153.89 L510.3,153.94 L510.8,153.94 L511.3,153.82 L511.8,153.82 L512.3,153.97 L512.8,153.8 L513.3,153.97 L513.8,153.88 L514.3,153.96 L514.8,153.96 L515.3,153.97 L515.8,153.98 L516.3,153.83 L516.8,153.94 L517.3,153.93 L517.8,153.96 L518.3,154.04 L518.8,153.91 L519.3,153.88 L519.8,153.88 L520.3,153.92 L520.8,154.03 L521.3,153.88 L521.8,154.08 L522.3,154 L522.8,153.96 L523.3,153.85 L523.8,154.02 L524.3,154.07 L524.8,153.81 L525.3,154.13 L525.8,154.19 L526.3,154.05 L526.8,154.08 L527.3,154.3 L527.8,154.17 L528.3,153.94 L528.8,154.04 L529.3,154.03 L529.8,154.04 L530.3,153.78 L530.8,154.16 L531.3,154 L531.8,154.1 L532.3,154.07 L532.8,154.2 L533.3,154.06 L533.8,154.01 L534.3,154.17 L534.8,154.29 L535.3,154.08 L535.8,154.29 L536.3,154.17 L536.8,154.08 L537.3,154.33 L537.8,154.06 L538.3,154.28 L538.8,154.11 L539.3,154.23 L539.8,154.03 L540.3,154.08 L540.8,154.32 L541.3,154.22 L541.8,154.21 L542.3,154.16 L542.8,154.27 L543.3,154.06 L543.8,154.1 L544.3,154.22 L544.8,154.14 L545.3,154.16 L545.8,154.25 L546.3,154.25 L546.8,154.24 L547.3,154.47 L547.8,154.4 L548.3,154.44 L548.8,154.29 L549.3,154.24 L549.8,154.13 L550.3,154.27 L550.8,154.07 L551.3,154.26 L551.8,154.42 L552.3,154.53 L552.8,154.46 L553.3,154.25 L553.8,154.42 L554.3,154.27 L554.8,154.47 L555.3,154.37 L555.8,154.49 L556.3,154.7 L556.8,154.51 L557.3,154.68 L557.8,154.43 L558.3,154.38 L558.8,154.58 L559.3,154.64 L559.8,154.37 L560.3,154.45 L560.8,154.28 L561.3,154.43 L561.8,154.57 L562.3,154.46 L562.8,154.41 L563.3,154.31 L563.8,154.53 L564.3,154.59 L564.8,154.57 L565.3,154.54 L565.8,154.36 L566.3,154.73 L566.8,154.52 L567.3,154.52 L567.8,154.63 L568.3,154.29 L568.8,154.55 L569.3,154.54 L569.8,154.61 L570.3,154.73 L570.8,154.64 L571.3,154.36 L571.8,154.55 L572.3,154.62 L572.8,154.62 L573.3,154.46 L573.8,154.42 L574.3,154.69 L574.8,154.67 L575.3,154.63 L575.8,154.43 L576.3,154.86 L576.8,154.31 L577.3,154.62 L577.8,154.92 L578.3,154.65 L578.8,154.71 L579.3,154.54 L579.8,154.85 L580.3,154.54 L580.8,154.73 L581.3,154.73 L581.8,154.59 L582.3,154.83 L582.8,154.56 L583.3,154.65 L583.8,154.74 L584.3,154.7 L584.8,154.81 L585.3,154.87 L585.8,154.73 L586.3,154.71 L586.8,154.72 L587.3,154.74 L587.8,154.89 L588.3,154.77 L588.8,154.85 L589.3,154.8 L589.8,154.71 L590.3,154.92 L590.8,154.7 L591.3,154.83 L591.8,155.02 L592.3,154.71 L592.8,154.84 L593.3,154.67 L593.8,154.8 L594.3,154.69 L594.8,154.83 L595.3,154.81 L595.8,154.9 L596.3,155.08 L596.8,154.93 L597.3,154.98 L597.8,154.9 L598.3,154.88 L598.8,154.82 L599.3,154.71 L599.8,154.94 L600.3,155.13 L600.8,155 L601.3,154.88 L601.8,155.15 L602.3,154.91 L602.8,154.89 L603.3,154.83 L603.8,154.86 L604.3,154.95 L604.8,155.23 L605.3,154.97 L605.8,154.88 L606.3,154.93" fill="none" stroke="#b68b4e" stroke-width="1.25" stroke-linejoin="round"/>
<path d="M412.8,160.98 L413.3,160.94 L413.8,160.87 L414.3,160.78 L414.8,160.68 L415.3,160.58 L415.8,160.46 L416.3,160.33 L416.8,160.2 L417.3,160.07 L417.8,159.93 L418.3,159.78 L418.8,159.63 L419.3,159.48 L419.8,159.33 L420.3,159.17 L420.8,159.01 L421.3,158.85 L421.8,158.69 L422.3,158.53 L422.8,158.36 L423.3,158.2 L423.8,158.03 L424.3,157.87 L424.8,157.7 L425.3,157.54 L425.8,157.37 L426.3,157.2 L426.8,157.04 L427.3,156.88 L427.8,156.71 L428.3,156.55 L428.8,156.39 L429.3,156.23 L429.8,156.07 L430.3,155.91 L430.8,155.75 L431.3,155.59 L431.8,155.44 L432.3,155.29 L432.8,155.13 L433.3,154.98 L433.8,154.84 L434.3,154.69 L434.8,154.54 L435.3,154.4 L435.8,154.26 L436.3,154.12 L436.8,153.98 L437.3,153.85 L437.8,153.71 L438.3,153.58 L438.8,153.45 L439.3,153.32 L439.8,153.2 L440.3,153.07 L440.8,152.95 L441.3,152.83 L441.8,152.71 L442.3,152.6 L442.8,152.48 L443.3,152.37 L443.8,152.26 L444.3,152.15 L444.8,152.05 L445.3,151.94 L445.8,151.84 L446.3,151.74 L446.8,151.64 L447.3,151.55 L447.8,151.45 L448.3,151.36 L448.8,151.27 L449.3,151.18 L449.8,151.1 L450.3,151.01 L450.8,150.93 L451.3,150.85 L451.8,150.77 L452.3,150.69 L452.8,150.62 L453.3,150.54 L453.8,150.47 L454.3,150.4 L454.8,150.33 L455.3,150.26 L455.8,150.2 L456.3,150.13 L456.8,150.07 L457.3,150.01 L457.8,149.95 L458.3,149.89 L458.8,149.84 L459.3,149.78 L459.8,149.73 L460.3,149.67 L460.8,149.62 L461.3,149.57 L461.8,149.53 L462.3,149.48 L462.8,149.43 L463.3,149.39 L463.8,149.35 L464.3,149.31 L464.8,149.27 L465.3,149.23 L465.8,149.19 L466.3,149.15 L466.8,149.11 L467.3,149.08 L467.8,149.05 L468.3,149.01 L468.8,148.98 L469.3,148.95 L469.8,148.92 L470.3,148.89 L470.8,148.86 L471.3,148.84 L471.8,148.81 L472.3,148.79 L472.8,148.76 L473.3,148.74 L473.8,148.72 L474.3,148.69 L474.8,148.67 L475.3,148.65 L475.8,148.63 L476.3,148.61 L476.8,148.6 L477.3,148.58 L477.8,148.56 L478.3,148.55 L478.8,148.53 L479.3,148.51 L479.8,148.5 L480.3,148.49 L480.8,148.47 L481.3,148.46 L481.8,148.45 L482.3,148.44 L482.8,148.43 L483.3,148.42 L483.8,148.41 L484.3,148.4 L484.8,148.39 L485.3,148.38 L485.8,148.37 L486.3,148.35 L486.8,148.35 L487.3,148.34 L487.8,148.36 L488.3,148.34 L488.8,148.32 L489.3,148.32 L489.8,148.33 L490.3,148.31 L490.8,148.31 L491.3,148.31 L491.8,148.31 L492.3,148.31 L492.8,148.31 L493.3,148.33 L493.8,148.34 L494.3,148.26 L494.8,148.36 L495.3,148.3 L495.8,148.33 L496.3,148.27 L496.8,148.3 L497.3,148.3 L497.8,148.29 L498.3,148.32 L498.8,148.31 L499.3,148.25 L499.8,148.29 L500.3,148.32 L500.8,148.32 L501.3,148.28 L501.8,148.29 L502.3,148.29 L502.8,148.25 L503.3,148.24 L503.8,148.38 L504.3,148.29 L504.8,148.32 L505.3,148.27 L505.8,148.39 L506.3,148.42 L506.8,148.31 L507.3,148.36 L507.8,148.28 L508.3,148.44 L508.8,148.39 L509.3,148.28 L509.8,148.43 L510.3,148.37 L510.8,148.38 L511.3,148.38 L511.8,148.31 L512.3,148.32 L512.8,148.41 L513.3,148.37 L513.8,148.3 L514.3,148.54 L514.8,148.37 L515.3,148.35 L515.8,148.34 L516.3,148.46 L516.8,148.49 L517.3,148.43 L517.8,148.49 L518.3,148.29 L518.8,148.39 L519.3,148.39 L519.8,148.44 L520.3,148.49 L520.8,148.25 L521.3,148.76 L521.8,148.37 L522.3,148.5 L522.8,148.55 L523.3,148.56 L523.8,148.51 L524.3,148.18 L524.8,148.38 L525.3,148.58 L525.8,148.4 L526.3,148.39 L526.8,148.25 L527.3,148.66 L527.8,148.59 L528.3,148.43 L528.8,148.52 L529.3,148.53 L529.8,148.42 L530.3,148.52 L530.8,148.59 L531.3,148.63 L531.8,148.73 L532.3,148.58 L532.8,148.53 L533.3,148.64 L533.8,148.52 L534.3,148.46 L534.8,148.75 L535.3,148.57 L535.8,148.64 L536.3,148.71 L536.8,148.51 L537.3,148.72 L537.8,148.71 L538.3,148.65 L538.8,148.71 L539.3,148.58 L539.8,148.41 L540.3,148.65 L540.8,148.58 L541.3,148.8 L541.8,148.74 L542.3,148.65 L542.8,148.72 L543.3,148.89 L543.8,148.87 L544.3,148.78 L544.8,148.8 L545.3,148.72 L545.8,148.74 L546.3,148.84 L546.8,148.76 L547.3,148.82 L547.8,148.65 L548.3,148.59 L548.8,148.6 L549.3,148.76 L549.8,148.97 L550.3,148.96 L550.8,148.71 L551.3,148.65 L551.8,148.94 L552.3,148.91 L552.8,148.69 L553.3,148.99 L553.8,148.89 L554.3,149.04 L554.8,148.93 L555.3,149 L555.8,148.94 L556.3,148.79 L556.8,148.89 L557.3,148.84 L557.8,149.03 L558.3,148.82 L558.8,148.76 L559.3,149.03 L559.8,149.1 L560.3,149.14 L560.8,149.1 L561.3,148.8 L561.8,148.9 L562.3,148.93 L562.8,149 L563.3,148.75 L563.8,149.02 L564.3,149.06 L564.8,148.92 L565.3,149.05 L565.8,149.19 L566.3,149.06 L566.8,149.19 L567.3,149.19 L567.8,149.13 L568.3,149.13 L568.8,149.05 L569.3,149.25 L569.8,149.05 L570.3,149.03 L570.8,149.21 L571.3,149.04 L571.8,149.19 L572.3,149.27 L572.8,149.16 L573.3,149.17 L573.8,149.28 L574.3,149.27 L574.8,149 L575.3,149.03 L575.8,149.36 L576.3,149.25 L576.8,148.96 L577.3,149.06 L577.8,149.23 L578.3,149.12 L578.8,149.3 L579.3,149.26 L579.8,149.32 L580.3,149.13 L580.8,149.35 L581.3,149.52 L581.8,149.2 L582.3,149.46 L582.8,149.43 L583.3,149.39 L583.8,149.32 L584.3,149.19 L584.8,149.24 L585.3,149.44 L585.8,149.48 L586.3,149.51 L586.8,149.49 L587.3,149.49 L587.8,149.34 L588.3,149.25 L588.8,149.43 L589.3,149.47 L589.8,149.43 L590.3,149.25 L590.8,149.38 L591.3,149.27 L591.8,149.47 L592.3,149.34 L592.8,149.45 L593.3,149.52 L593.8,149.51 L594.3,149.66 L594.8,149.37 L595.3,149.25 L595.8,149.64 L596.3,149.7 L596.8,149.71 L597.3,149.58 L597.8,149.62 L598.3,149.58 L598.8,149.42 L599.3,149.51 L599.8,149.65 L600.3,149.53 L600.8,149.84 L601.3,149.43 L601.8,149.57 L602.3,149.77 L602.8,149.57 L603.3,149.51 L603.8,149.5 L604.3,149.58 L604.8,149.86 L605.3,149.73 L605.8,149.76 L606.3,149.64" fill="none" stroke="#ff5e40" stroke-width="1.25" stroke-linejoin="round"/>
<path d="M412.8,160.32 L413.3,160.25 L413.8,160.13 L414.3,159.99 L414.8,159.83 L415.3,159.65 L415.8,159.46 L416.3,159.27 L416.8,159.06 L417.3,158.85 L417.8,158.63 L418.3,158.4 L418.8,158.17 L419.3,157.93 L419.8,157.69 L420.3,157.45 L420.8,157.21 L421.3,156.96 L421.8,156.71 L422.3,156.46 L422.8,156.21 L423.3,155.96 L423.8,155.7 L424.3,155.45 L424.8,155.2 L425.3,154.94 L425.8,154.69 L426.3,154.44 L426.8,154.19 L427.3,153.93 L427.8,153.68 L428.3,153.44 L428.8,153.19 L429.3,152.94 L429.8,152.7 L430.3,152.45 L430.8,152.21 L431.3,151.97 L431.8,151.74 L432.3,151.5 L432.8,151.27 L433.3,151.04 L433.8,150.81 L434.3,150.58 L434.8,150.36 L435.3,150.14 L435.8,149.92 L436.3,149.7 L436.8,149.49 L437.3,149.28 L437.8,149.07 L438.3,148.87 L438.8,148.66 L439.3,148.46 L439.8,148.27 L440.3,148.07 L440.8,147.88 L441.3,147.69 L441.8,147.5 L442.3,147.32 L442.8,147.14 L443.3,146.96 L443.8,146.79 L444.3,146.61 L444.8,146.44 L445.3,146.28 L445.8,146.11 L446.3,145.95 L446.8,145.79 L447.3,145.64 L447.8,145.49 L448.3,145.33 L448.8,145.19 L449.3,145.04 L449.8,144.9 L450.3,144.76 L450.8,144.62 L451.3,144.49 L451.8,144.36 L452.3,144.23 L452.8,144.1 L453.3,143.98 L453.8,143.86 L454.3,143.74 L454.8,143.62 L455.3,143.5 L455.8,143.39 L456.3,143.28 L456.8,143.18 L457.3,143.07 L457.8,142.97 L458.3,142.87 L458.8,142.77 L459.3,142.67 L459.8,142.58 L460.3,142.49 L460.8,142.4 L461.3,142.31 L461.8,142.22 L462.3,142.14 L462.8,142.06 L463.3,141.98 L463.8,141.9 L464.3,141.82 L464.8,141.75 L465.3,141.67 L465.8,141.6 L466.3,141.54 L466.8,141.47 L467.3,141.4 L467.8,141.34 L468.3,141.28 L468.8,141.22 L469.3,141.16 L469.8,141.1 L470.3,141.04 L470.8,140.99 L471.3,140.94 L471.8,140.88 L472.3,140.83 L472.8,140.78 L473.3,140.74 L473.8,140.69 L474.3,140.65 L474.8,140.6 L475.3,140.56 L475.8,140.52 L476.3,140.48 L476.8,140.44 L477.3,140.4 L477.8,140.37 L478.3,140.33 L478.8,140.3 L479.3,140.27 L479.8,140.24 L480.3,140.2 L480.8,140.17 L481.3,140.15 L481.8,140.12 L482.3,140.09 L482.8,140.07 L483.3,140.04 L483.8,140.02 L484.3,139.99 L484.8,139.97 L485.3,139.95 L485.8,139.93 L486.3,139.91 L486.8,139.89 L487.3,139.88 L487.8,139.86 L488.3,139.83 L488.8,139.82 L489.3,139.82 L489.8,139.8 L490.3,139.77 L490.8,139.77 L491.3,139.78 L491.8,139.74 L492.3,139.74 L492.8,139.77 L493.3,139.71 L493.8,139.7 L494.3,139.66 L494.8,139.66 L495.3,139.71 L495.8,139.66 L496.3,139.62 L496.8,139.62 L497.3,139.65 L497.8,139.67 L498.3,139.61 L498.8,139.66 L499.3,139.61 L499.8,139.64 L500.3,139.64 L500.8,139.64 L501.3,139.59 L501.8,139.6 L502.3,139.63 L502.8,139.54 L503.3,139.61 L503.8,139.63 L504.3,139.66 L504.8,139.6 L505.3,139.59 L505.8,139.61 L506.3,139.56 L506.8,139.59 L507.3,139.63 L507.8,139.63 L508.3,139.55 L508.8,139.59 L509.3,139.48 L509.8,139.67 L510.3,139.59 L510.8,139.64 L511.3,139.55 L511.8,139.63 L512.3,139.67 L512.8,139.71 L513.3,139.54 L513.8,139.71 L514.3,139.64 L514.8,139.6 L515.3,139.7 L515.8,139.64 L516.3,139.65 L516.8,139.62 L517.3,139.7 L517.8,139.69 L518.3,139.68 L518.8,139.62 L519.3,139.66 L519.8,139.75 L520.3,139.84 L520.8,139.73 L521.3,139.88 L521.8,139.74 L522.3,139.64 L522.8,139.82 L523.3,139.67 L523.8,139.82 L524.3,139.9 L524.8,139.76 L525.3,139.79 L525.8,140.08 L526.3,139.84 L526.8,139.86 L527.3,139.92 L527.8,139.83 L528.3,139.84 L528.8,139.91 L529.3,139.59 L529.8,140.05 L530.3,139.76 L530.8,139.77 L531.3,139.97 L531.8,139.92 L532.3,139.78 L532.8,139.96 L533.3,139.81 L533.8,139.87 L534.3,139.79 L534.8,139.88 L535.3,140.03 L535.8,140.01 L536.3,140.04 L536.8,140.13 L537.3,140.02 L537.8,139.96 L538.3,140.02 L538.8,140.26 L539.3,140.07 L539.8,140.12 L540.3,140.08 L540.8,140.13 L541.3,140.16 L541.8,140.12 L542.3,140.12 L542.8,140.05 L543.3,140.06 L543.8,140.22 L544.3,140.27 L544.8,140.3 L545.3,140.21 L545.8,140.11 L546.3,140.3 L546.8,140.31 L547.3,140.07 L547.8,140.36 L548.3,140.34 L548.8,140.48 L549.3,140.16 L549.8,140.15 L550.3,140.41 L550.8,140.11 L551.3,140.25 L551.8,140.22 L552.3,140.24 L552.8,140.15 L553.3,140.36 L553.8,140.52 L554.3,140.47 L554.8,140.48 L555.3,140.39 L555.8,140.62 L556.3,140.53 L556.8,140.6 L557.3,140.3 L557.8,140.54 L558.3,140.38 L558.8,140.57 L559.3,140.56 L559.8,140.41 L560.3,140.58 L560.8,140.71 L561.3,140.65 L561.8,140.67 L562.3,140.51 L562.8,140.54 L563.3,140.51 L563.8,140.67 L564.3,140.81 L564.8,140.73 L565.3,140.69 L565.8,140.57 L566.3,140.77 L566.8,140.7 L567.3,140.51 L567.8,140.55 L568.3,140.73 L568.8,140.67 L569.3,140.99 L569.8,140.81 L570.3,140.7 L570.8,140.78 L571.3,141.04 L571.8,140.75 L572.3,140.97 L572.8,140.94 L573.3,141.08 L573.8,140.98 L574.3,140.88 L574.8,141 L575.3,140.96 L575.8,141.09 L576.3,140.98 L576.8,141.23 L577.3,141 L577.8,141.08 L578.3,140.96 L578.8,141.07 L579.3,141.07 L579.8,141.1 L580.3,141.2 L580.8,141.04 L581.3,141.02 L581.8,141.27 L582.3,141.12 L582.8,141.08 L583.3,141.32 L583.8,141.29 L584.3,140.89 L584.8,141.18 L585.3,141.33 L585.8,141.35 L586.3,141.2 L586.8,141.47 L587.3,141.2 L587.8,141.28 L588.3,141.34 L588.8,141.34 L589.3,141.45 L589.8,141.49 L590.3,141.38 L590.8,141.56 L591.3,141.33 L591.8,141.4 L592.3,141.64 L592.8,141.47 L593.3,141.6 L593.8,141.43 L594.3,141.47 L594.8,141.5 L595.3,141.55 L595.8,141.5 L596.3,141.56 L596.8,141.65 L597.3,141.73 L597.8,141.62 L598.3,141.7 L598.8,141.75 L599.3,141.52 L599.8,141.48 L600.3,141.88 L600.8,141.86 L601.3,141.72 L601.8,141.77 L602.3,141.63 L602.8,141.59 L603.3,141.81 L603.8,141.61 L604.3,141.92 L604.8,141.74 L605.3,141.87 L605.8,142.09 L606.3,142.1" fill="none" stroke="#ffa63c" stroke-width="1.25" stroke-linejoin="round"/>
<path d="M412.8,159.39 L413.3,159.17 L413.8,158.91 L414.3,158.63 L414.8,158.34 L415.3,158.04 L415.8,157.74 L416.3,157.43 L416.8,157.12 L417.3,156.81 L417.8,156.5 L418.3,156.18 L418.8,155.87 L419.3,155.55 L419.8,155.23 L420.3,154.92 L420.8,154.6 L421.3,154.28 L421.8,153.97 L422.3,153.65 L422.8,153.34 L423.3,153.03 L423.8,152.72 L424.3,152.41 L424.8,152.1 L425.3,151.79 L425.8,151.48 L426.3,151.18 L426.8,150.88 L427.3,150.58 L427.8,150.28 L428.3,149.98 L428.8,149.69 L429.3,149.4 L429.8,149.11 L430.3,148.82 L430.8,148.53 L431.3,148.25 L431.8,147.96 L432.3,147.68 L432.8,147.4 L433.3,147.13 L433.8,146.85 L434.3,146.58 L434.8,146.31 L435.3,146.05 L435.8,145.78 L436.3,145.52 L436.8,145.26 L437.3,145 L437.8,144.75 L438.3,144.49 L438.8,144.24 L439.3,143.99 L439.8,143.75 L440.3,143.5 L440.8,143.26 L441.3,143.02 L441.8,142.78 L442.3,142.55 L442.8,142.31 L443.3,142.08 L443.8,141.86 L444.3,141.63 L444.8,141.41 L445.3,141.18 L445.8,140.97 L446.3,140.75 L446.8,140.53 L447.3,140.32 L447.8,140.11 L448.3,139.9 L448.8,139.7 L449.3,139.49 L449.8,139.29 L450.3,139.09 L450.8,138.9 L451.3,138.7 L451.8,138.51 L452.3,138.32 L452.8,138.13 L453.3,137.94 L453.8,137.76 L454.3,137.57 L454.8,137.39 L455.3,137.22 L455.8,137.04 L456.3,136.87 L456.8,136.69 L457.3,136.52 L457.8,136.36 L458.3,136.19 L458.8,136.03 L459.3,135.86 L459.8,135.7 L460.3,135.54 L460.8,135.39 L461.3,135.23 L461.8,135.08 L462.3,134.93 L462.8,134.78 L463.3,134.63 L463.8,134.49 L464.3,134.35 L464.8,134.2 L465.3,134.06 L465.8,133.93 L466.3,133.79 L466.8,133.66 L467.3,133.52 L467.8,133.39 L468.3,133.26 L468.8,133.14 L469.3,133.01 L469.8,132.89 L470.3,132.76 L470.8,132.64 L471.3,132.52 L471.8,132.41 L472.3,132.29 L472.8,132.17 L473.3,132.06 L473.8,131.95 L474.3,131.84 L474.8,131.73 L475.3,131.63 L475.8,131.52 L476.3,131.42 L476.8,131.31 L477.3,131.21 L477.8,131.11 L478.3,131.02 L478.8,130.92 L479.3,130.83 L479.8,130.73 L480.3,130.64 L480.8,130.55 L481.3,130.46 L481.8,130.37 L482.3,130.28 L482.8,130.2 L483.3,130.12 L483.8,130.03 L484.3,129.95 L484.8,129.87 L485.3,129.79 L485.8,129.72 L486.3,129.64 L486.8,129.57 L487.3,129.49 L487.8,129.41 L488.3,129.35 L488.8,129.3 L489.3,129.19 L489.8,129.14 L490.3,129.09 L490.8,128.97 L491.3,128.94 L491.8,128.83 L492.3,128.8 L492.8,128.71 L493.3,128.66 L493.8,128.62 L494.3,128.57 L494.8,128.51 L495.3,128.35 L495.8,128.49 L496.3,128.34 L496.8,128.25 L497.3,128.22 L497.8,128.22 L498.3,128.09 L498.8,128.08 L499.3,128.03 L499.8,128.04 L500.3,127.91 L500.8,127.95 L501.3,127.9 L501.8,127.82 L502.3,127.88 L502.8,127.75 L503.3,127.61 L503.8,127.69 L504.3,127.64 L504.8,127.59 L505.3,127.58 L505.8,127.74 L506.3,127.51 L506.8,127.5 L507.3,127.39 L507.8,127.52 L508.3,127.35 L508.8,127.24 L509.3,127.16 L509.8,127.32 L510.3,127.32 L510.8,127.03 L511.3,127.1 L511.8,127.23 L512.3,127.25 L512.8,126.94 L513.3,127.03 L513.8,127.17 L514.3,126.97 L514.8,126.95 L515.3,126.92 L515.8,126.79 L516.3,126.96 L516.8,126.98 L517.3,126.72 L517.8,126.91 L518.3,127.05 L518.8,126.9 L519.3,127 L519.8,126.75 L520.3,127.04 L520.8,126.68 L521.3,127.1 L521.8,126.71 L522.3,126.65 L522.8,126.61 L523.3,126.68 L523.8,126.65 L524.3,126.61 L524.8,126.66 L525.3,126.83 L525.8,126.87 L526.3,126.64 L526.8,126.92 L527.3,126.5 L527.8,126.48 L528.3,126.46 L528.8,126.79 L529.3,126.36 L529.8,126.39 L530.3,126.92 L530.8,127 L531.3,126.93 L531.8,126.36 L532.3,126.66 L532.8,126.82 L533.3,126.68 L533.8,126.33 L534.3,126.59 L534.8,126.32 L535.3,126.42 L535.8,127.09 L536.3,126.8 L536.8,126.38 L537.3,126.38 L537.8,126.77 L538.3,126.56 L538.8,126.81 L539.3,126.57 L539.8,126.66 L540.3,126.76 L540.8,126.51 L541.3,126.34 L541.8,126.49 L542.3,126.6 L542.8,126.71 L543.3,126.75 L543.8,126.75 L544.3,126.88 L544.8,126.61 L545.3,127.08 L545.8,127.21 L546.3,126.89 L546.8,126.87 L547.3,127.09 L547.8,126.99 L548.3,126.91 L548.8,126.85 L549.3,126.75 L549.8,126.68 L550.3,127.06 L550.8,127.18 L551.3,126.74 L551.8,126.96 L552.3,127.03 L552.8,126.92 L553.3,126.87 L553.8,126.96 L554.3,126.66 L554.8,127.06 L555.3,127.03 L555.8,127.53 L556.3,127.31 L556.8,127.07 L557.3,127.16 L557.8,127.52 L558.3,127.52 L558.8,127.26 L559.3,127.21 L559.8,126.97 L560.3,127.21 L560.8,127.27 L561.3,127.17 L561.8,127.69 L562.3,126.99 L562.8,127.36 L563.3,127.49 L563.8,127.52 L564.3,127.79 L564.8,127.2 L565.3,127.35 L565.8,127.54 L566.3,127.57 L566.8,127.49 L567.3,127.44 L567.8,127.84 L568.3,127.44 L568.8,127.56 L569.3,127.98 L569.8,128.07 L570.3,127.92 L570.8,127.6 L571.3,127.63 L571.8,127.65 L572.3,127.63 L572.8,127.8 L573.3,128.16 L573.8,127.98 L574.3,127.81 L574.8,127.83 L575.3,127.78 L575.8,128.29 L576.3,127.67 L576.8,128.16 L577.3,127.84 L577.8,127.95 L578.3,127.89 L578.8,128.41 L579.3,128.23 L579.8,128.82 L580.3,128.1 L580.8,128.12 L581.3,128.48 L581.8,128.51 L582.3,128.37 L582.8,128.05 L583.3,128.78 L583.8,128.63 L584.3,128.63 L584.8,128.46 L585.3,128.74 L585.8,128.53 L586.3,128.69 L586.8,128.67 L587.3,128.99 L587.8,128.68 L588.3,128.74 L588.8,129.06 L589.3,128.92 L589.8,128.9 L590.3,128.89 L590.8,129.16 L591.3,128.88 L591.8,129.14 L592.3,129.48 L592.8,129.19 L593.3,128.99 L593.8,128.94 L594.3,129.24 L594.8,129 L595.3,128.96 L595.8,129.17 L596.3,129.13 L596.8,129.56 L597.3,129.13 L597.8,129.78 L598.3,129.35 L598.8,129.56 L599.3,129.7 L599.8,129.65 L600.3,129.79 L600.8,129.48 L601.3,129.26 L601.8,129.71 L602.3,129.45 L602.8,129.71 L603.3,130.05 L603.8,129.86 L604.3,129.82 L604.8,129.75 L605.3,129.95 L605.8,130.02 L606.3,129.77" fill="none" stroke="#bd55ee" stroke-width="1.25" stroke-linejoin="round"/>
<path d="M412.8,158.51 L413.3,158.42 L413.8,158.24 L414.3,158.03 L414.8,157.78 L415.3,157.5 L415.8,157.2 L416.3,156.87 L416.8,156.53 L417.3,156.18 L417.8,155.81 L418.3,155.42 L418.8,155.03 L419.3,154.62 L419.8,154.21 L420.3,153.78 L420.8,153.35 L421.3,152.91 L421.8,152.46 L422.3,152.01 L422.8,151.55 L423.3,151.08 L423.8,150.61 L424.3,150.14 L424.8,149.66 L425.3,149.18 L425.8,148.69 L426.3,148.2 L426.8,147.71 L427.3,147.22 L427.8,146.72 L428.3,146.23 L428.8,145.73 L429.3,145.23 L429.8,144.73 L430.3,144.23 L430.8,143.73 L431.3,143.23 L431.8,142.73 L432.3,142.23 L432.8,141.73 L433.3,141.23 L433.8,140.73 L434.3,140.24 L434.8,139.74 L435.3,139.25 L435.8,138.75 L436.3,138.26 L436.8,137.77 L437.3,137.28 L437.8,136.8 L438.3,136.31 L438.8,135.83 L439.3,135.35 L439.8,134.87 L440.3,134.4 L440.8,133.93 L441.3,133.46 L441.8,132.99 L442.3,132.53 L442.8,132.07 L443.3,131.61 L443.8,131.16 L444.3,130.71 L444.8,130.26 L445.3,129.81 L445.8,129.37 L446.3,128.93 L446.8,128.5 L447.3,128.07 L447.8,127.64 L448.3,127.22 L448.8,126.8 L449.3,126.38 L449.8,125.97 L450.3,125.56 L450.8,125.15 L451.3,124.75 L451.8,124.35 L452.3,123.96 L452.8,123.57 L453.3,123.18 L453.8,122.8 L454.3,122.42 L454.8,122.04 L455.3,121.67 L455.8,121.3 L456.3,120.94 L456.8,120.58 L457.3,120.23 L457.8,119.87 L458.3,119.53 L458.8,119.18 L459.3,118.84 L459.8,118.51 L460.3,118.18 L460.8,117.85 L461.3,117.53 L461.8,117.21 L462.3,116.89 L462.8,116.58 L463.3,116.27 L463.8,115.96 L464.3,115.66 L464.8,115.37 L465.3,115.07 L465.8,114.79 L466.3,114.5 L466.8,114.22 L467.3,113.94 L467.8,113.67 L468.3,113.4 L468.8,113.13 L469.3,112.87 L469.8,112.61 L470.3,112.35 L470.8,112.1 L471.3,111.85 L471.8,111.61 L472.3,111.37 L472.8,111.13 L473.3,110.9 L473.8,110.67 L474.3,110.44 L474.8,110.22 L475.3,110 L475.8,109.78 L476.3,109.57 L476.8,109.36 L477.3,109.15 L477.8,108.94 L478.3,108.74 L478.8,108.55 L479.3,108.35 L479.8,108.16 L480.3,107.98 L480.8,107.79 L481.3,107.61 L481.8,107.43 L482.3,107.26 L482.8,107.08 L483.3,106.91 L483.8,106.75 L484.3,106.58 L484.8,106.42 L485.3,106.27 L485.8,106.11 L486.3,105.96 L486.8,105.82 L487.3,105.68 L487.8,105.54 L488.3,105.41 L488.8,105.25 L489.3,105.13 L489.8,104.99 L490.3,104.82 L490.8,104.67 L491.3,104.54 L491.8,104.48 L492.3,104.24 L492.8,104.23 L493.3,104.07 L493.8,104.04 L494.3,103.9 L494.8,103.73 L495.3,103.67 L495.8,103.41 L496.3,103.48 L496.8,103.4 L497.3,103.12 L497.8,103.24 L498.3,103.07 L498.8,103 L499.3,102.77 L499.8,102.87 L500.3,102.78 L500.8,102.64 L501.3,102.46 L501.8,102.56 L502.3,102.54 L502.8,102.37 L503.3,102.37 L503.8,102.11 L504.3,102.13 L504.8,102.09 L505.3,102 L505.8,102.28 L506.3,101.91 L506.8,101.72 L507.3,101.85 L507.8,101.52 L508.3,101.67 L508.8,101.68 L509.3,101.44 L509.8,101.41 L510.3,101.26 L510.8,101.38 L511.3,101.2 L511.8,101.56 L512.3,101.34 L512.8,101.15 L513.3,100.89 L513.8,101.47 L514.3,101.3 L514.8,101.12 L515.3,101.03 L515.8,100.99 L516.3,100.83 L516.8,101.27 L517.3,100.91 L517.8,100.54 L518.3,100.67 L518.8,100.24 L519.3,100.89 L519.8,100.89 L520.3,101.09 L520.8,101.15 L521.3,100.48 L521.8,100.74 L522.3,100.85 L522.8,100.79 L523.3,100.46 L523.8,100.76 L524.3,100.68 L524.8,100.88 L525.3,100.52 L525.8,100.45 L526.3,100.37 L526.8,100.39 L527.3,100.28 L527.8,100.38 L528.3,100.6 L528.8,100.58 L529.3,100.82 L529.8,100.75 L530.3,100.62 L530.8,100.12 L531.3,100.6 L531.8,100.76 L532.3,100.07 L532.8,100.12 L533.3,100.16 L533.8,100.14 L534.3,100.35 L534.8,100.17 L535.3,100.54 L535.8,100.1 L536.3,100.41 L536.8,100.31 L537.3,100.18 L537.8,100.75 L538.3,100.47 L538.8,100.63 L539.3,100.39 L539.8,100.69 L540.3,100.67 L540.8,100.47 L541.3,100.02 L541.8,100.76 L542.3,100.74 L542.8,100.61 L543.3,100.64 L543.8,100.62 L544.3,100.65 L544.8,100.33 L545.3,100.61 L545.8,100.73 L546.3,100.49 L546.8,100.4 L547.3,101.21 L547.8,100.88 L548.3,100.64 L548.8,100.61 L549.3,100.02 L549.8,100.38 L550.3,100.73 L550.8,101.18 L551.3,100.27 L551.8,100.67 L552.3,101.42 L552.8,101.09 L553.3,101.04 L553.8,101.29 L554.3,100.94 L554.8,100.95 L555.3,101.22 L555.8,101.28 L556.3,100.77 L556.8,101.52 L557.3,100.63 L557.8,100.95 L558.3,102.03 L558.8,101.05 L559.3,101.4 L559.8,100.97 L560.3,101.18 L560.8,101.1 L561.3,101.22 L561.8,101.54 L562.3,101.87 L562.8,101.66 L563.3,101.88 L563.8,101.33 L564.3,101.91 L564.8,101.68 L565.3,101.94 L565.8,101.47 L566.3,101.55 L566.8,102.03 L567.3,101.85 L567.8,101.73 L568.3,101.54 L568.8,101.74 L569.3,101.93 L569.8,102.03 L570.3,101.7 L570.8,101.79 L571.3,102.04 L571.8,101.64 L572.3,102.25 L572.8,102.01 L573.3,102.01 L573.8,101.4 L574.3,101.66 L574.8,101.85 L575.3,102.01 L575.8,101.9 L576.3,102.35 L576.8,102.31 L577.3,102.23 L577.8,101.77 L578.3,102.77 L578.8,102.33 L579.3,102.61 L579.8,102.29 L580.3,102.52 L580.8,102.75 L581.3,102.65 L581.8,102.89 L582.3,102.61 L582.8,103.25 L583.3,102.2 L583.8,102.61 L584.3,103.08 L584.8,102.77 L585.3,102.75 L585.8,102.42 L586.3,103.29 L586.8,102.46 L587.3,103.17 L587.8,103.12 L588.3,103.34 L588.8,103.55 L589.3,102.98 L589.8,102.99 L590.3,103.16 L590.8,102.81 L591.3,103.56 L591.8,103.25 L592.3,103.45 L592.8,103.12 L593.3,103.48 L593.8,103.34 L594.3,103.53 L594.8,103.29 L595.3,103.92 L595.8,103.49 L596.3,103 L596.8,103.93 L597.3,103.7 L597.8,103.58 L598.3,104.57 L598.8,103.89 L599.3,103.57 L599.8,103.81 L600.3,104.13 L600.8,104 L601.3,104.45 L601.8,104.45 L602.3,103.97 L602.8,104.24 L603.3,104.45 L603.8,104.19 L604.3,104.22 L604.8,104.64 L605.3,104.56 L605.8,104.08 L606.3,104.36" fill="none" stroke="#27c427" stroke-width="1.25" stroke-linejoin="round"/>
<path d="M412.8,157.64 L413.3,157.56 L413.8,157.38 L414.3,157.14 L414.8,156.86 L415.3,156.55 L415.8,156.21 L416.3,155.85 L416.8,155.48 L417.3,155.08 L417.8,154.68 L418.3,154.26 L418.8,153.82 L419.3,153.38 L419.8,152.93 L420.3,152.46 L420.8,151.99 L421.3,151.51 L421.8,151.02 L422.3,150.53 L422.8,150.03 L423.3,149.52 L423.8,149.01 L424.3,148.49 L424.8,147.97 L425.3,147.44 L425.8,146.91 L426.3,146.38 L426.8,145.84 L427.3,145.3 L427.8,144.76 L428.3,144.21 L428.8,143.67 L429.3,143.11 L429.8,142.56 L430.3,142.01 L430.8,141.45 L431.3,140.89 L431.8,140.33 L432.3,139.77 L432.8,139.21 L433.3,138.65 L433.8,138.09 L434.3,137.52 L434.8,136.96 L435.3,136.39 L435.8,135.83 L436.3,135.26 L436.8,134.7 L437.3,134.13 L437.8,133.57 L438.3,133.01 L438.8,132.44 L439.3,131.88 L439.8,131.31 L440.3,130.75 L440.8,130.19 L441.3,129.63 L441.8,129.07 L442.3,128.51 L442.8,127.95 L443.3,127.4 L443.8,126.84 L444.3,126.28 L444.8,125.73 L445.3,125.18 L445.8,124.63 L446.3,124.08 L446.8,123.53 L447.3,122.99 L447.8,122.44 L448.3,121.9 L448.8,121.36 L449.3,120.82 L449.8,120.28 L450.3,119.74 L450.8,119.21 L451.3,118.68 L451.8,118.15 L452.3,117.62 L452.8,117.09 L453.3,116.57 L453.8,116.05 L454.3,115.53 L454.8,115.01 L455.3,114.49 L455.8,113.98 L456.3,113.47 L456.8,112.96 L457.3,112.45 L457.8,111.95 L458.3,111.45 L458.8,110.95 L459.3,110.45 L459.8,109.95 L460.3,109.46 L460.8,108.97 L461.3,108.48 L461.8,108 L462.3,107.52 L462.8,107.04 L463.3,106.56 L463.8,106.08 L464.3,105.61 L464.8,105.14 L465.3,104.67 L465.8,104.21 L466.3,103.74 L466.8,103.28 L467.3,102.83 L467.8,102.37 L468.3,101.92 L468.8,101.47 L469.3,101.02 L469.8,100.58 L470.3,100.14 L470.8,99.7 L471.3,99.26 L471.8,98.83 L472.3,98.4 L472.8,97.97 L473.3,97.54 L473.8,97.12 L474.3,96.7 L474.8,96.28 L475.3,95.87 L475.8,95.46 L476.3,95.05 L476.8,94.64 L477.3,94.24 L477.8,93.84 L478.3,93.44 L478.8,93.05 L479.3,92.66 L479.8,92.27 L480.3,91.88 L480.8,91.5 L481.3,91.12 L481.8,90.75 L482.3,90.37 L482.8,90 L483.3,89.64 L483.8,89.27 L484.3,88.91 L484.8,88.55 L485.3,88.2 L485.8,87.85 L486.3,87.51 L486.8,87.16 L487.3,86.83 L487.8,86.43 L488.3,86.16 L488.8,85.82 L489.3,85.47 L489.8,85.15 L490.3,84.78 L490.8,84.57 L491.3,84.14 L491.8,83.78 L492.3,83.56 L492.8,83.21 L493.3,82.94 L493.8,82.77 L494.3,82.34 L494.8,82.06 L495.3,81.98 L495.8,81.33 L496.3,81.22 L496.8,81.02 L497.3,80.79 L497.8,80.6 L498.3,79.97 L498.8,79.86 L499.3,79.5 L499.8,79.18 L500.3,78.87 L500.8,78.49 L501.3,78.5 L501.8,78.31 L502.3,77.76 L502.8,77.8 L503.3,77.33 L503.8,76.99 L504.3,76.45 L504.8,76.88 L505.3,76.57 L505.8,76.13 L506.3,75.87 L506.8,75.44 L507.3,75.58 L507.8,75.22 L508.3,75.12 L508.8,74.81 L509.3,74.22 L509.8,73.95 L510.3,74.18 L510.8,73.45 L511.3,73.7 L511.8,73.64 L512.3,72.87 L512.8,73.15 L513.3,72.77 L513.8,72.69 L514.3,72.16 L514.8,72.11 L515.3,72.03 L515.8,72.23 L516.3,71.7 L516.8,71.43 L517.3,70.68 L517.8,70.97 L518.3,70.46 L518.8,70.45 L519.3,70.36 L519.8,70.39 L520.3,70.08 L520.8,69.75 L521.3,69.48 L521.8,69.78 L522.3,68.81 L522.8,68.96 L523.3,69.26 L523.8,68.51 L524.3,68.71 L524.8,68.56 L525.3,68.81 L525.8,68.32 L526.3,67.08 L526.8,67.56 L527.3,67.51 L527.8,67.57 L528.3,67.24 L528.8,67.7 L529.3,67.24 L529.8,66.13 L530.3,66.22 L530.8,65.47 L531.3,66.94 L531.8,66.02 L532.3,65.88 L532.8,65.14 L533.3,65.5 L533.8,65.74 L534.3,65.27 L534.8,65.16 L535.3,64.95 L535.8,65.95 L536.3,64.77 L536.8,64.29 L537.3,64.59 L537.8,64.57 L538.3,64.59 L538.8,64.44 L539.3,63.99 L539.8,64.31 L540.3,64.49 L540.8,63.66 L541.3,65.03 L541.8,64.86 L542.3,63.31 L542.8,63.87 L543.3,64.41 L543.8,64.51 L544.3,64.66 L544.8,63.08 L545.3,63.36 L545.8,63.58 L546.3,64.01 L546.8,63.29 L547.3,63.92 L547.8,63.91 L548.3,64.01 L548.8,63.14 L549.3,63.77 L549.8,63.71 L550.3,63.5 L550.8,64.23 L551.3,63.56 L551.8,64.31 L552.3,63.44 L552.8,64.43 L553.3,64.42 L553.8,63.38 L554.3,63.89 L554.8,63.9 L555.3,63.37 L555.8,64.15 L556.3,64.09 L556.8,63.49 L557.3,63.93 L557.8,64.3 L558.3,63.88 L558.8,63.68 L559.3,64.72 L559.8,63.64 L560.3,64.24 L560.8,64.61 L561.3,64.51 L561.8,63.43 L562.3,64.12 L562.8,64.24 L563.3,64.26 L563.8,64.66 L564.3,64.67 L564.8,64.55 L565.3,64.65 L565.8,65.02 L566.3,65.17 L566.8,63.88 L567.3,65.68 L567.8,64.56 L568.3,65.19 L568.8,64.21 L569.3,64.74 L569.8,64.48 L570.3,65.53 L570.8,65.51 L571.3,65.19 L571.8,65.17 L572.3,65.46 L572.8,64.95 L573.3,65.15 L573.8,65.14 L574.3,65.87 L574.8,65.59 L575.3,65.09 L575.8,65.84 L576.3,65.97 L576.8,66.39 L577.3,65.62 L577.8,66.09 L578.3,66.86 L578.8,65.89 L579.3,65.92 L579.8,66.35 L580.3,65.97 L580.8,66.24 L581.3,66.07 L581.8,66 L582.3,66.76 L582.8,66.28 L583.3,66.06 L583.8,66.41 L584.3,66.52 L584.8,66.75 L585.3,67.07 L585.8,67.47 L586.3,66.24 L586.8,66.7 L587.3,66.07 L587.8,66.98 L588.3,67.15 L588.8,66.69 L589.3,66.62 L589.8,66.63 L590.3,66.45 L590.8,67.4 L591.3,67.98 L591.8,66.72 L592.3,67.94 L592.8,67.24 L593.3,66.73 L593.8,67.6 L594.3,67.72 L594.8,67.61 L595.3,67.37 L595.8,68.23 L596.3,67.43 L596.8,67.86 L597.3,67.91 L597.8,67.29 L598.3,66.92 L598.8,67.01 L599.3,67.62 L599.8,67.98 L600.3,67.11 L600.8,67.6 L601.3,68.6 L601.8,67.23 L602.3,68.23 L602.8,68.23 L603.3,68.46 L603.8,67.54 L604.3,68.35 L604.8,67.66 L605.3,68.87 L605.8,67.98 L606.3,68.56" fill="none" stroke="#3358f5" stroke-width="1.25" stroke-linejoin="round"/>
<path d="M412.8,156.79 L413.3,156.46 L413.8,156.05 L414.3,155.6 L414.8,155.13 L415.3,154.65 L415.8,154.15 L416.3,153.65 L416.8,153.14 L417.3,152.63 L417.8,152.11 L418.3,151.6 L418.8,151.08 L419.3,150.57 L419.8,150.05 L420.3,149.54 L420.8,149.02 L421.3,148.51 L421.8,148 L422.3,147.49 L422.8,146.98 L423.3,146.47 L423.8,145.97 L424.3,145.46 L424.8,144.95 L425.3,144.45 L425.8,143.94 L426.3,143.44 L426.8,142.93 L427.3,142.42 L427.8,141.91 L428.3,141.4 L428.8,140.89 L429.3,140.37 L429.8,139.85 L430.3,139.33 L430.8,138.81 L431.3,138.28 L431.8,137.74 L432.3,137.2 L432.8,136.66 L433.3,136.11 L433.8,135.55 L434.3,134.99 L434.8,134.41 L435.3,133.84 L435.8,133.25 L436.3,132.65 L436.8,132.05 L437.3,131.43 L437.8,130.81 L438.3,130.17 L438.8,129.52 L439.3,128.86 L439.8,128.19 L440.3,127.52 L440.8,126.83 L441.3,126.14 L441.8,125.45 L442.3,124.75 L442.8,124.04 L443.3,123.34 L443.8,122.63 L444.3,121.92 L444.8,121.21 L445.3,120.5 L445.8,119.8 L446.3,119.1 L446.8,118.4 L447.3,117.71 L447.8,117.02 L448.3,116.34 L448.8,115.67 L449.3,115 L449.8,114.34 L450.3,113.68 L450.8,113.03 L451.3,112.39 L451.8,111.75 L452.3,111.11 L452.8,110.48 L453.3,109.86 L453.8,109.24 L454.3,108.62 L454.8,108.01 L455.3,107.41 L455.8,106.81 L456.3,106.21 L456.8,105.61 L457.3,105.02 L457.8,104.44 L458.3,103.85 L458.8,103.27 L459.3,102.7 L459.8,102.12 L460.3,101.55 L460.8,100.98 L461.3,100.42 L461.8,99.85 L462.3,99.29 L462.8,98.73 L463.3,98.17 L463.8,97.61 L464.3,97.06 L464.8,96.51 L465.3,95.96 L465.8,95.41 L466.3,94.86 L466.8,94.32 L467.3,93.78 L467.8,93.24 L468.3,92.7 L468.8,92.16 L469.3,91.63 L469.8,91.1 L470.3,90.57 L470.8,90.04 L471.3,89.52 L471.8,89 L472.3,88.48 L472.8,87.96 L473.3,87.44 L473.8,86.93 L474.3,86.42 L474.8,85.91 L475.3,85.41 L475.8,84.9 L476.3,84.4 L476.8,83.9 L477.3,83.41 L477.8,82.91 L478.3,82.42 L478.8,81.93 L479.3,81.45 L479.8,80.96 L480.3,80.48 L480.8,80.01 L481.3,79.53 L481.8,79.06 L482.3,78.59 L482.8,78.13 L483.3,77.67 L483.8,77.21 L484.3,76.76 L484.8,76.31 L485.3,75.86 L485.8,75.43 L486.3,74.99 L486.8,74.55 L487.3,74.11 L487.8,73.67 L488.3,73.22 L488.8,72.86 L489.3,72.41 L489.8,71.96 L490.3,71.57 L490.8,71.14 L491.3,70.9 L491.8,70.4 L492.3,70.03 L492.8,69.55 L493.3,69.17 L493.8,68.97 L494.3,68.48 L494.8,68.16 L495.3,67.96 L495.8,67.63 L496.3,67.13 L496.8,66.76 L497.3,66.39 L497.8,65.98 L498.3,65.93 L498.8,65.18 L499.3,64.99 L499.8,64.4 L500.3,64.17 L500.8,64.1 L501.3,63.79 L501.8,63.46 L502.3,63.05 L502.8,62.68 L503.3,62.4 L503.8,62.13 L504.3,62.12 L504.8,61.9 L505.3,61.43 L505.8,60.95 L506.3,60.59 L506.8,60.57 L507.3,60.19 L507.8,59.57 L508.3,60.02 L508.8,59.46 L509.3,59.13 L509.8,58.74 L510.3,58.49 L510.8,58.69 L511.3,57.98 L511.8,58.01 L512.3,57.93 L512.8,58.03 L513.3,57.47 L513.8,57.07 L514.3,56.74 L514.8,56.9 L515.3,56.74 L515.8,56.11 L516.3,56.21 L516.8,55.79 L517.3,55.12 L517.8,55.12 L518.3,55.51 L518.8,55.54 L519.3,55.11 L519.8,54.63 L520.3,54.28 L520.8,54.54 L521.3,54.3 L521.8,53.43 L522.3,54.08 L522.8,53.43 L523.3,53.78 L523.8,53.58 L524.3,53.5 L524.8,53.49 L525.3,53.21 L525.8,52.37 L526.3,52.24 L526.8,52.93 L527.3,52.58 L527.8,51.6 L528.3,51.28 L528.8,52.38 L529.3,52.83 L529.8,52.12 L530.3,51.54 L530.8,51.65 L531.3,50.23 L531.8,50.88 L532.3,51.65 L532.8,51.49 L533.3,50.08 L533.8,51.43 L534.3,51.05 L534.8,51.14 L535.3,50.55 L535.8,50.56 L536.3,50 L536.8,50.53 L537.3,50.71 L537.8,49.83 L538.3,50.33 L538.8,49.87 L539.3,50.49 L539.8,50.39 L540.3,48.87 L540.8,50.04 L541.3,50.23 L541.8,49.49 L542.3,49.58 L542.8,49.56 L543.3,49.08 L543.8,49.48 L544.3,50.17 L544.8,49.66 L545.3,50.07 L545.8,49.8 L546.3,49.86 L546.8,49.36 L547.3,49.61 L547.8,50.13 L548.3,49.86 L548.8,49.34 L549.3,48.87 L549.8,48.75 L550.3,49.24 L550.8,49.31 L551.3,48.3 L551.8,49.19 L552.3,49.24 L552.8,49.21 L553.3,48.83 L553.8,50.07 L554.3,49.44 L554.8,48.46 L555.3,48.75 L555.8,49.42 L556.3,49.29 L556.8,49.13 L557.3,49.07 L557.8,49 L558.3,48.91 L558.8,48.67 L559.3,49.38 L559.8,47.94 L560.3,48.85 L560.8,49.72 L561.3,48.86 L561.8,48.7 L562.3,50.07 L562.8,49.72 L563.3,49.23 L563.8,49.07 L564.3,49.25 L564.8,49.23 L565.3,49.31 L565.8,49.13 L566.3,49.72 L566.8,49.27 L567.3,48.76 L567.8,49.03 L568.3,49.63 L568.8,49.22 L569.3,48.63 L569.8,50.4 L570.3,50.01 L570.8,49.63 L571.3,49.65 L571.8,50.15 L572.3,50.57 L572.8,49.75 L573.3,50.25 L573.8,49.85 L574.3,50.31 L574.8,49.73 L575.3,49.48 L575.8,50.36 L576.3,50.35 L576.8,50.75 L577.3,50.2 L577.8,51.14 L578.3,50.64 L578.8,51.33 L579.3,50.57 L579.8,51.43 L580.3,50.81 L580.8,50.96 L581.3,51.37 L581.8,50.25 L582.3,50.61 L582.8,51.94 L583.3,50.54 L583.8,51.05 L584.3,51.56 L584.8,52.02 L585.3,51.23 L585.8,51.57 L586.3,51.09 L586.8,51.48 L587.3,52.16 L587.8,51.92 L588.3,51.83 L588.8,52.09 L589.3,52.03 L589.8,52.11 L590.3,51.95 L590.8,51.74 L591.3,52.53 L591.8,51.8 L592.3,52.81 L592.8,53.36 L593.3,53.16 L593.8,53.57 L594.3,52.18 L594.8,52.8 L595.3,52.4 L595.8,52.51 L596.3,52.15 L596.8,52.43 L597.3,53.39 L597.8,53.39 L598.3,53.68 L598.8,53.71 L599.3,53.62 L599.8,53 L600.3,53.36 L600.8,53.79 L601.3,54.08 L601.8,53.44 L602.3,53.45 L602.8,53.53 L603.3,54.48 L603.8,54.09 L604.3,53.77 L604.8,53.63 L605.3,54.22 L605.8,53.36 L606.3,54.04" fill="none" stroke="#252525" stroke-width="1.25" stroke-linejoin="round"/>
<line x1="412.8" y1="35.5" x2="412.8" y2="165.45" stroke="#2e2e2e" stroke-width="1.35" />
<line x1="412.15" y1="164.8" x2="606.9" y2="164.8" stroke="#2e2e2e" stroke-width="1.35" />
<line x1="407.2" y1="164.8" x2="412.8" y2="164.8" stroke="#2e2e2e" stroke-width="1.35" />
<text x="406.3" y="168.5" font-size="11.3" text-anchor="end" font-weight="normal" font-style="normal" fill="#1e1e1e"  stroke="#1e1e1e" stroke-width="0.2">0</text>
<line x1="409.9" y1="148.64" x2="412.8" y2="148.64" stroke="#2e2e2e" stroke-width="1.35" />
<line x1="407.2" y1="132.48" x2="412.8" y2="132.48" stroke="#2e2e2e" stroke-width="1.35" />
<text x="406.3" y="136.18" font-size="11.3" text-anchor="end" font-weight="normal" font-style="normal" fill="#1e1e1e"  stroke="#1e1e1e" stroke-width="0.2">50</text>
<line x1="409.9" y1="116.31" x2="412.8" y2="116.31" stroke="#2e2e2e" stroke-width="1.35" />
<line x1="407.2" y1="100.15" x2="412.8" y2="100.15" stroke="#2e2e2e" stroke-width="1.35" />
<text x="406.3" y="103.85" font-size="11.3" text-anchor="end" font-weight="normal" font-style="normal" fill="#1e1e1e"  stroke="#1e1e1e" stroke-width="0.2">100</text>
<line x1="409.9" y1="83.99" x2="412.8" y2="83.99" stroke="#2e2e2e" stroke-width="1.35" />
<line x1="407.2" y1="67.83" x2="412.8" y2="67.83" stroke="#2e2e2e" stroke-width="1.35" />
<text x="406.3" y="71.53" font-size="11.3" text-anchor="end" font-weight="normal" font-style="normal" fill="#1e1e1e"  stroke="#1e1e1e" stroke-width="0.2">150</text>
<line x1="409.9" y1="51.66" x2="412.8" y2="51.66" stroke="#2e2e2e" stroke-width="1.35" />
<line x1="407.2" y1="35.5" x2="412.8" y2="35.5" stroke="#2e2e2e" stroke-width="1.35" />
<text x="406.3" y="39.2" font-size="11.3" text-anchor="end" font-weight="normal" font-style="normal" fill="#1e1e1e"  stroke="#1e1e1e" stroke-width="0.2">200</text>
<line x1="412.8" y1="164.8" x2="412.8" y2="170.2" stroke="#2e2e2e" stroke-width="1.35" />
<text x="413.1" y="179.9" font-size="11.3" text-anchor="middle" font-weight="normal" font-style="normal" fill="#1e1e1e"  stroke="#1e1e1e" stroke-width="0.2">0</text>
<line x1="445.05" y1="164.8" x2="445.05" y2="167.7" stroke="#2e2e2e" stroke-width="1.35" />
<line x1="477.3" y1="164.8" x2="477.3" y2="170.2" stroke="#2e2e2e" stroke-width="1.35" />
<text x="477.6" y="179.9" font-size="11.3" text-anchor="middle" font-weight="normal" font-style="normal" fill="#1e1e1e"  stroke="#1e1e1e" stroke-width="0.2">2000</text>
<line x1="509.55" y1="164.8" x2="509.55" y2="167.7" stroke="#2e2e2e" stroke-width="1.35" />
<line x1="541.8" y1="164.8" x2="541.8" y2="170.2" stroke="#2e2e2e" stroke-width="1.35" />
<text x="542.1" y="179.9" font-size="11.3" text-anchor="middle" font-weight="normal" font-style="normal" fill="#1e1e1e"  stroke="#1e1e1e" stroke-width="0.2">4000</text>
<line x1="574.05" y1="164.8" x2="574.05" y2="167.7" stroke="#2e2e2e" stroke-width="1.35" />
<line x1="606.3" y1="164.8" x2="606.3" y2="170.2" stroke="#2e2e2e" stroke-width="1.35" />
<text x="606.6" y="179.9" font-size="11.3" text-anchor="middle" font-weight="normal" font-style="normal" fill="#1e1e1e"  stroke="#1e1e1e" stroke-width="0.2">6000</text>
<text x="510.6" y="195.7" font-size="13.6" text-anchor="middle" font-weight="normal" font-style="normal" fill="#1e1e1e"  stroke="#1e1e1e" stroke-width="0.2">Time, s</text>
<text x="360.5" y="98.3" font-size="13.6" text-anchor="start" font-weight="normal" font-style="normal" fill="#1e1e1e"  stroke="#1e1e1e" stroke-width="0.2">[F],</text>
<text x="362.3" y="115.2" font-size="13.6" text-anchor="start" font-weight="normal" font-style="normal" fill="#1e1e1e"  stroke="#1e1e1e" stroke-width="0.2">μM</text>
<text x="627.9" y="30.8" font-size="13.35" text-anchor="start" font-weight="normal" font-style="normal" fill="#1e1e1e"  stroke="#1e1e1e" stroke-width="0.2">[QF]<tspan font-size="8.2" dy="4.8">0</tspan><tspan dy="-4.8">, μM</tspan></text>
<line x1="636.3" y1="47.1" x2="650.2" y2="47.1" stroke="#252525" stroke-width="1.3" />
<text x="657.4" y="51.6" font-size="11.5" text-anchor="start" font-weight="normal" font-style="normal" fill="#1e1e1e"  stroke="#1e1e1e" stroke-width="0.2">200</text>
<line x1="636.3" y1="64.3" x2="650.2" y2="64.3" stroke="#3358f5" stroke-width="1.3" />
<text x="657.4" y="68.8" font-size="11.5" text-anchor="start" font-weight="normal" font-style="normal" fill="#1e1e1e"  stroke="#1e1e1e" stroke-width="0.2">130</text>
<line x1="636.3" y1="81.5" x2="650.2" y2="81.5" stroke="#27c427" stroke-width="1.3" />
<text x="657.4" y="86" font-size="11.5" text-anchor="start" font-weight="normal" font-style="normal" fill="#1e1e1e"  stroke="#1e1e1e" stroke-width="0.2">89</text>
<line x1="636.3" y1="98.7" x2="650.2" y2="98.7" stroke="#bd55ee" stroke-width="1.3" />
<text x="657.4" y="103.2" font-size="11.5" text-anchor="start" font-weight="normal" font-style="normal" fill="#1e1e1e"  stroke="#1e1e1e" stroke-width="0.2">59</text>
<line x1="636.3" y1="115.9" x2="650.2" y2="115.9" stroke="#ffa63c" stroke-width="1.3" />
<text x="657.4" y="120.4" font-size="11.5" text-anchor="start" font-weight="normal" font-style="normal" fill="#1e1e1e"  stroke="#1e1e1e" stroke-width="0.2">40</text>
<line x1="636.3" y1="133.1" x2="650.2" y2="133.1" stroke="#ff5e40" stroke-width="1.3" />
<text x="657.4" y="137.6" font-size="11.5" text-anchor="start" font-weight="normal" font-style="normal" fill="#1e1e1e"  stroke="#1e1e1e" stroke-width="0.2">26</text>
<line x1="636.3" y1="150.3" x2="650.2" y2="150.3" stroke="#b68b4e" stroke-width="1.3" />
<text x="657.4" y="154.8" font-size="11.5" text-anchor="start" font-weight="normal" font-style="normal" fill="#1e1e1e"  stroke="#1e1e1e" stroke-width="0.2">18</text>
<line x1="636.3" y1="167.5" x2="650.2" y2="167.5" stroke="#2235a8" stroke-width="1.3" />
<text x="657.4" y="172" font-size="11.5" text-anchor="start" font-weight="normal" font-style="normal" fill="#1e1e1e"  stroke="#1e1e1e" stroke-width="0.2">12</text>
<path d="M79.1,391.2 L79.83,389.65 L80.57,388.14 L81.3,386.65 L82.04,385.18 L82.77,383.75 L83.5,382.34 L84.24,380.96 L84.97,379.6 L85.7,378.27 L86.44,376.96 L87.17,375.67 L87.91,374.4 L88.64,373.16 L89.37,371.94 L90.11,370.73 L90.84,369.55 L91.57,368.39 L92.31,367.25 L93.04,366.12 L93.78,365.02 L94.51,363.93 L95.24,362.86 L95.98,361.8 L96.71,360.77 L97.44,359.74 L98.18,358.74 L98.91,357.75 L99.65,356.77 L100.38,355.81 L101.11,354.86 L101.85,353.93 L102.58,353.01 L103.31,352.11 L104.05,351.22 L104.78,350.34 L105.52,349.47 L106.25,348.62 L106.98,347.78 L107.72,346.95 L108.45,346.13 L109.18,345.32 L109.92,344.52 L110.65,343.74 L111.39,342.96 L112.12,342.2 L112.85,341.44 L113.59,340.7 L114.32,339.97 L115.06,339.24 L115.79,338.53 L116.52,337.82 L117.26,337.12 L117.99,336.44 L118.72,335.76 L119.46,335.09 L120.19,334.42 L120.93,333.77 L121.66,333.12 L122.39,332.49 L123.13,331.86 L123.86,331.23 L124.59,330.62 L125.33,330.01 L126.06,329.41 L126.8,328.82 L127.53,328.23 L128.26,327.65 L129,327.08 L129.73,326.51 L130.46,325.95 L131.2,325.4 L131.93,324.85 L132.67,324.31 L133.4,323.78 L134.13,323.25 L134.87,322.73 L135.6,322.21 L136.33,321.7 L137.07,321.19 L137.8,320.69 L138.54,320.2 L139.27,319.71 L140,319.23 L140.74,318.75 L141.47,318.27 L142.21,317.8 L142.94,317.34 L143.67,316.88 L144.41,316.43 L145.14,315.98 L145.87,315.53 L146.61,315.09 L147.34,314.66 L148.08,314.22 L148.81,313.8 L149.54,313.37 L150.28,312.96 L151.01,312.54 L151.74,312.13 L152.48,311.72 L153.21,311.32 L153.95,310.92 L154.68,310.53 L155.41,310.14 L156.15,309.75 L156.88,309.37 L157.61,308.99 L158.35,308.61 L159.08,308.24 L159.82,307.87 L160.55,307.5 L161.28,307.14 L162.02,306.78 L162.75,306.43 L163.48,306.07 L164.22,305.72 L164.95,305.38 L165.69,305.04 L166.42,304.7 L167.15,304.36 L167.89,304.02 L168.62,303.69 L169.35,303.37 L170.09,303.04 L170.82,302.72 L171.56,302.4 L172.29,302.08 L173.02,301.77 L173.76,301.46 L174.49,301.15 L175.23,300.84 L175.96,300.54 L176.69,300.24 L177.43,299.94 L178.16,299.65 L178.89,299.35 L179.63,299.06 L180.36,298.77 L181.1,298.49 L181.83,298.2 L182.56,297.92 L183.3,297.64 L184.03,297.37 L184.76,297.09 L185.5,296.82 L186.23,296.55 L186.97,296.28 L187.7,296.02 L188.43,295.75 L189.17,295.49 L189.9,295.23 L190.63,294.97 L191.37,294.72 L192.1,294.46 L192.84,294.21 L193.57,293.96 L194.3,293.71 L195.04,293.47 L195.77,293.22 L196.5,292.98 L197.24,292.74 L197.97,292.5 L198.71,292.27 L199.44,292.03 L200.17,291.8 L200.91,291.57 L201.64,291.34 L202.37,291.11 L203.11,290.88 L203.84,290.66 L204.58,290.43 L205.31,290.21 L206.04,289.99 L206.78,289.77 L207.51,289.56 L208.25,289.34 L208.98,289.13 L209.71,288.92 L210.45,288.71 L211.18,288.5 L211.91,288.29 L212.65,288.08 L213.38,287.88 L214.12,287.67 L214.85,287.47 L215.58,287.27 L216.32,287.07 L217.05,286.88 L217.78,286.68 L218.52,286.48 L219.25,286.29 L219.99,286.1 L220.72,285.91 L221.45,285.72 L222.19,285.53 L222.92,285.34 L223.65,285.15 L224.39,284.97 L225.12,284.79 L225.86,284.6 L226.59,284.42 L227.32,284.24 L228.06,284.06 L228.79,283.88 L229.52,283.71 L230.26,283.53 L230.99,283.36 L231.73,283.18 L232.46,283.01 L233.19,282.84 L233.93,282.67 L234.66,282.5 L235.39,282.34 L236.13,282.17 L236.86,282 L237.6,281.84 L238.33,281.67 L239.06,281.51 L239.8,281.35 L240.53,281.19 L241.27,281.03 L242,280.87 L242.73,280.71 L243.47,280.56 L244.2,280.4 L244.93,280.25 L245.67,280.09 L246.4,279.94 L247.14,279.79 L247.87,279.64 L248.6,279.49 L249.34,279.34 L250.07,279.19 L250.8,279.04 L251.54,278.89 L252.27,278.75 L253.01,278.6 L253.74,278.46 L254.47,278.32 L255.21,278.17 L255.94,278.03 L256.67,277.89 L257.41,277.75 L258.14,277.61 L258.88,277.47 L259.61,277.34 L260.34,277.2 L261.08,277.06 L261.81,276.93 L262.54,276.79 L263.28,276.66 L264.01,276.53 L264.75,276.4 L265.48,276.26 L266.21,276.13 L266.95,276 L267.68,275.87 L268.42,275.75 L269.15,275.62 L269.88,275.49 L270.62,275.36 L271.35,275.24 L272.08,275.11 L272.82,274.99 L273.55,274.87 L274.29,274.74 L275.02,274.62 L275.75,274.5 L276.49,274.38 L277.22,274.26 L277.95,274.14 L278.69,274.02 L279.42,273.9 L280.16,273.78 L280.89,273.66 L281.62,273.55 L282.36,273.43 L283.09,273.32 L283.82,273.2 L284.56,273.09 L285.29,272.97 L286.03,272.86 L286.76,272.75 L287.49,272.64 L288.23,272.52 L288.96,272.41 L289.69,272.3 L290.43,272.19 L291.16,272.08 L291.9,271.98 L292.63,271.87 L293.36,271.76 L294.1,271.65 L294.83,271.55 L295.56,271.44 L296.3,271.34 L297.03,271.23 L297.77,271.13 L298.5,271.02" fill="none" stroke="#111" stroke-width="1.35"/>
<circle cx="298.5" cy="273.1" r="2.9" fill="#0a0a0a"/>
<line x1="225.3" y1="278.1" x2="225.3" y2="292.3" stroke="#111" stroke-width="1.4" />
<line x1="222" y1="278.1" x2="228.6" y2="278.1" stroke="#111" stroke-width="1.4" />
<line x1="222" y1="292.3" x2="228.6" y2="292.3" stroke="#111" stroke-width="1.4" />
<circle cx="225.3" cy="285.2" r="2.9" fill="#0a0a0a"/>
<line x1="176.6" y1="291.8" x2="176.6" y2="299" stroke="#111" stroke-width="1.4" />
<line x1="173.3" y1="291.8" x2="179.9" y2="291.8" stroke="#111" stroke-width="1.4" />
<line x1="173.3" y1="299" x2="179.9" y2="299" stroke="#111" stroke-width="1.4" />
<circle cx="176.6" cy="295.4" r="2.9" fill="#0a0a0a"/>
<line x1="140.8" y1="310.4" x2="147.4" y2="310.4" stroke="#111" stroke-width="1.4" />
<line x1="140.8" y1="315.6" x2="147.4" y2="315.6" stroke="#111" stroke-width="1.4" />
<circle cx="144.1" cy="313" r="2.9" fill="#0a0a0a"/>
<line x1="119.1" y1="329.9" x2="125.7" y2="329.9" stroke="#111" stroke-width="1.4" />
<line x1="119.1" y1="334.1" x2="125.7" y2="334.1" stroke="#111" stroke-width="1.4" />
<circle cx="122.4" cy="332" r="2.9" fill="#0a0a0a"/>
<line x1="104.7" y1="347.2" x2="111.3" y2="347.2" stroke="#111" stroke-width="1.4" />
<line x1="104.7" y1="349.2" x2="111.3" y2="349.2" stroke="#111" stroke-width="1.4" />
<circle cx="108" cy="348.2" r="2.9" fill="#0a0a0a"/>
<circle cx="98.4" cy="361" r="2.9" fill="#0a0a0a"/>
<circle cx="91.9" cy="369.4" r="2.9" fill="#0a0a0a"/>
<circle cx="87.7" cy="376.8" r="2.9" fill="#0a0a0a"/>
<circle cx="84.8" cy="381.5" r="2.9" fill="#0a0a0a"/>
<circle cx="82.9" cy="384.8" r="2.9" fill="#0a0a0a"/>
<circle cx="81.6" cy="386.8" r="2.9" fill="#0a0a0a"/>
<line x1="79.1" y1="245.2" x2="79.1" y2="391.85" stroke="#2e2e2e" stroke-width="1.35" />
<line x1="78.45" y1="391.2" x2="299.1" y2="391.2" stroke="#2e2e2e" stroke-width="1.35" />
<line x1="73.3" y1="391.2" x2="79.1" y2="391.2" stroke="#2e2e2e" stroke-width="1.35" />
<text x="70.4" y="395.3" font-size="11.3" text-anchor="end" font-weight="normal" font-style="normal" fill="#1e1e1e"  stroke="#1e1e1e" stroke-width="0.2">0.00</text>
<line x1="76.1" y1="366.87" x2="79.1" y2="366.87" stroke="#2e2e2e" stroke-width="1.35" />
<line x1="73.3" y1="342.53" x2="79.1" y2="342.53" stroke="#2e2e2e" stroke-width="1.35" />
<text x="70.4" y="346.63" font-size="11.3" text-anchor="end" font-weight="normal" font-style="normal" fill="#1e1e1e"  stroke="#1e1e1e" stroke-width="0.2">0.02</text>
<line x1="76.1" y1="318.2" x2="79.1" y2="318.2" stroke="#2e2e2e" stroke-width="1.35" />
<line x1="73.3" y1="293.87" x2="79.1" y2="293.87" stroke="#2e2e2e" stroke-width="1.35" />
<text x="70.4" y="297.97" font-size="11.3" text-anchor="end" font-weight="normal" font-style="normal" fill="#1e1e1e"  stroke="#1e1e1e" stroke-width="0.2">0.04</text>
<line x1="76.1" y1="269.53" x2="79.1" y2="269.53" stroke="#2e2e2e" stroke-width="1.35" />
<line x1="73.3" y1="245.2" x2="79.1" y2="245.2" stroke="#2e2e2e" stroke-width="1.35" />
<text x="70.4" y="249.3" font-size="11.3" text-anchor="end" font-weight="normal" font-style="normal" fill="#1e1e1e"  stroke="#1e1e1e" stroke-width="0.2">0.06</text>
<line x1="79.1" y1="391.2" x2="79.1" y2="396.6" stroke="#2e2e2e" stroke-width="1.35" />
<text x="79.3" y="407.2" font-size="11.3" text-anchor="middle" font-weight="normal" font-style="normal" fill="#1e1e1e"  stroke="#1e1e1e" stroke-width="0.2">0</text>
<line x1="106.52" y1="391.2" x2="106.52" y2="394.1" stroke="#2e2e2e" stroke-width="1.35" />
<line x1="133.95" y1="391.2" x2="133.95" y2="396.6" stroke="#2e2e2e" stroke-width="1.35" />
<text x="134.15" y="407.2" font-size="11.3" text-anchor="middle" font-weight="normal" font-style="normal" fill="#1e1e1e"  stroke="#1e1e1e" stroke-width="0.2">50</text>
<line x1="161.38" y1="391.2" x2="161.38" y2="394.1" stroke="#2e2e2e" stroke-width="1.35" />
<line x1="188.8" y1="391.2" x2="188.8" y2="396.6" stroke="#2e2e2e" stroke-width="1.35" />
<text x="189" y="407.2" font-size="11.3" text-anchor="middle" font-weight="normal" font-style="normal" fill="#1e1e1e"  stroke="#1e1e1e" stroke-width="0.2">100</text>
<line x1="216.22" y1="391.2" x2="216.22" y2="394.1" stroke="#2e2e2e" stroke-width="1.35" />
<line x1="243.65" y1="391.2" x2="243.65" y2="396.6" stroke="#2e2e2e" stroke-width="1.35" />
<text x="243.85" y="407.2" font-size="11.3" text-anchor="middle" font-weight="normal" font-style="normal" fill="#1e1e1e"  stroke="#1e1e1e" stroke-width="0.2">150</text>
<line x1="271.07" y1="391.2" x2="271.07" y2="394.1" stroke="#2e2e2e" stroke-width="1.35" />
<line x1="298.5" y1="391.2" x2="298.5" y2="396.6" stroke="#2e2e2e" stroke-width="1.35" />
<text x="298.7" y="407.2" font-size="11.3" text-anchor="middle" font-weight="normal" font-style="normal" fill="#1e1e1e"  stroke="#1e1e1e" stroke-width="0.2">200</text>
<text x="189.2" y="422.8" font-size="13.6" text-anchor="middle" font-weight="normal" font-style="normal" fill="#1e1e1e"  stroke="#1e1e1e" stroke-width="0.2">[QF]<tspan font-size="8.4" dy="4.8">0</tspan><tspan dy="-4.8">, μM</tspan></text>
<text x="20" y="312.9" font-size="13.6" text-anchor="start" font-weight="normal" font-style="normal" fill="#1e1e1e"  stroke="#1e1e1e" stroke-width="0.2">v<tspan font-size="8.4" dy="4.8">0</tspan><tspan dy="-4.8">,</tspan></text>
<text x="27.2" y="329.5" font-size="13.6" text-anchor="middle" font-weight="normal" font-style="normal" fill="#1e1e1e"  stroke="#1e1e1e" stroke-width="0.2">μM/s</text>
<line x1="429" y1="387.29" x2="606.8" y2="268.48" stroke="#111" stroke-width="1.35" />
<line x1="606.8" y1="259.9" x2="606.8" y2="279.9" stroke="#111" stroke-width="1.4" />
<line x1="603.8" y1="259.9" x2="609.8" y2="259.9" stroke="#111" stroke-width="1.4" />
<line x1="603.8" y1="279.9" x2="609.8" y2="279.9" stroke="#111" stroke-width="1.4" />
<circle cx="606.8" cy="269.9" r="2.9" fill="#0a0a0a"/>
<line x1="547.1" y1="300.4" x2="547.1" y2="312.4" stroke="#111" stroke-width="1.4" />
<line x1="544.1" y1="300.4" x2="550.1" y2="300.4" stroke="#111" stroke-width="1.4" />
<line x1="544.1" y1="312.4" x2="550.1" y2="312.4" stroke="#111" stroke-width="1.4" />
<circle cx="547.1" cy="306.4" r="2.9" fill="#0a0a0a"/>
<line x1="504.5" y1="331.7" x2="510.5" y2="331.7" stroke="#111" stroke-width="1.4" />
<line x1="504.5" y1="336.9" x2="510.5" y2="336.9" stroke="#111" stroke-width="1.4" />
<circle cx="507.5" cy="334.3" r="2.9" fill="#0a0a0a"/>
<line x1="477.7" y1="350.3" x2="483.7" y2="350.3" stroke="#111" stroke-width="1.4" />
<line x1="477.7" y1="354.7" x2="483.7" y2="354.7" stroke="#111" stroke-width="1.4" />
<circle cx="480.7" cy="352.5" r="2.9" fill="#0a0a0a"/>
<circle cx="463.2" cy="365.2" r="2.9" fill="#0a0a0a"/>
<circle cx="451.3" cy="372.5" r="2.9" fill="#0a0a0a"/>
<circle cx="443.6" cy="377.8" r="2.9" fill="#0a0a0a"/>
<circle cx="438.3" cy="381.4" r="2.9" fill="#0a0a0a"/>
<circle cx="435" cy="383.4" r="2.9" fill="#0a0a0a"/>
<circle cx="432.8" cy="385" r="2.9" fill="#0a0a0a"/>
<circle cx="431.3" cy="385.6" r="2.9" fill="#0a0a0a"/>
<circle cx="430.3" cy="386.1" r="2.9" fill="#0a0a0a"/>
<line x1="428.2" y1="253.3" x2="428.2" y2="391.45" stroke="#2e2e2e" stroke-width="1.35" />
<line x1="427.55" y1="390.8" x2="635.1" y2="390.8" stroke="#2e2e2e" stroke-width="1.35" />
<line x1="422.6" y1="390.8" x2="428.2" y2="390.8" stroke="#2e2e2e" stroke-width="1.35" />
<text x="421.1" y="394.7" font-size="11.3" text-anchor="end" font-weight="normal" font-style="normal" fill="#1e1e1e"  stroke="#1e1e1e" stroke-width="0.2">0</text>
<line x1="425.2" y1="379.34" x2="428.2" y2="379.34" stroke="#2e2e2e" stroke-width="1.35" />
<line x1="422.6" y1="367.88" x2="428.2" y2="367.88" stroke="#2e2e2e" stroke-width="1.35" />
<text x="421.1" y="371.78" font-size="11.3" text-anchor="end" font-weight="normal" font-style="normal" fill="#1e1e1e"  stroke="#1e1e1e" stroke-width="0.2">100</text>
<line x1="425.2" y1="356.43" x2="428.2" y2="356.43" stroke="#2e2e2e" stroke-width="1.35" />
<line x1="422.6" y1="344.97" x2="428.2" y2="344.97" stroke="#2e2e2e" stroke-width="1.35" />
<text x="421.1" y="348.87" font-size="11.3" text-anchor="end" font-weight="normal" font-style="normal" fill="#1e1e1e"  stroke="#1e1e1e" stroke-width="0.2">200</text>
<line x1="425.2" y1="333.51" x2="428.2" y2="333.51" stroke="#2e2e2e" stroke-width="1.35" />
<line x1="422.6" y1="322.05" x2="428.2" y2="322.05" stroke="#2e2e2e" stroke-width="1.35" />
<text x="421.1" y="325.95" font-size="11.3" text-anchor="end" font-weight="normal" font-style="normal" fill="#1e1e1e"  stroke="#1e1e1e" stroke-width="0.2">300</text>
<line x1="425.2" y1="310.59" x2="428.2" y2="310.59" stroke="#2e2e2e" stroke-width="1.35" />
<line x1="422.6" y1="299.13" x2="428.2" y2="299.13" stroke="#2e2e2e" stroke-width="1.35" />
<text x="421.1" y="303.03" font-size="11.3" text-anchor="end" font-weight="normal" font-style="normal" fill="#1e1e1e"  stroke="#1e1e1e" stroke-width="0.2">400</text>
<line x1="425.2" y1="287.68" x2="428.2" y2="287.68" stroke="#2e2e2e" stroke-width="1.35" />
<line x1="422.6" y1="276.22" x2="428.2" y2="276.22" stroke="#2e2e2e" stroke-width="1.35" />
<text x="421.1" y="280.12" font-size="11.3" text-anchor="end" font-weight="normal" font-style="normal" fill="#1e1e1e"  stroke="#1e1e1e" stroke-width="0.2">500</text>
<line x1="425.2" y1="264.76" x2="428.2" y2="264.76" stroke="#2e2e2e" stroke-width="1.35" />
<line x1="422.6" y1="253.3" x2="428.2" y2="253.3" stroke="#2e2e2e" stroke-width="1.35" />
<text x="421.1" y="257.2" font-size="11.3" text-anchor="end" font-weight="normal" font-style="normal" fill="#1e1e1e"  stroke="#1e1e1e" stroke-width="0.2">600</text>
<line x1="428.2" y1="390.8" x2="428.2" y2="396.2" stroke="#2e2e2e" stroke-width="1.35" />
<text x="428.7" y="408.7" font-size="11.3" text-anchor="middle" font-weight="normal" font-style="normal" fill="#1e1e1e"  stroke="#1e1e1e" stroke-width="0.2">0.0</text>
<line x1="448.83" y1="390.8" x2="448.83" y2="393.7" stroke="#2e2e2e" stroke-width="1.35" />
<line x1="469.46" y1="390.8" x2="469.46" y2="396.2" stroke="#2e2e2e" stroke-width="1.35" />
<text x="469.96" y="408.7" font-size="11.3" text-anchor="middle" font-weight="normal" font-style="normal" fill="#1e1e1e"  stroke="#1e1e1e" stroke-width="0.2">0.1</text>
<line x1="490.09" y1="390.8" x2="490.09" y2="393.7" stroke="#2e2e2e" stroke-width="1.35" />
<line x1="510.72" y1="390.8" x2="510.72" y2="396.2" stroke="#2e2e2e" stroke-width="1.35" />
<text x="511.22" y="408.7" font-size="11.3" text-anchor="middle" font-weight="normal" font-style="normal" fill="#1e1e1e"  stroke="#1e1e1e" stroke-width="0.2">0.2</text>
<line x1="531.35" y1="390.8" x2="531.35" y2="393.7" stroke="#2e2e2e" stroke-width="1.35" />
<line x1="551.98" y1="390.8" x2="551.98" y2="396.2" stroke="#2e2e2e" stroke-width="1.35" />
<text x="552.48" y="408.7" font-size="11.3" text-anchor="middle" font-weight="normal" font-style="normal" fill="#1e1e1e"  stroke="#1e1e1e" stroke-width="0.2">0.3</text>
<line x1="572.61" y1="390.8" x2="572.61" y2="393.7" stroke="#2e2e2e" stroke-width="1.35" />
<line x1="593.24" y1="390.8" x2="593.24" y2="396.2" stroke="#2e2e2e" stroke-width="1.35" />
<text x="593.74" y="408.7" font-size="11.3" text-anchor="middle" font-weight="normal" font-style="normal" fill="#1e1e1e"  stroke="#1e1e1e" stroke-width="0.2">0.4</text>
<line x1="613.87" y1="390.8" x2="613.87" y2="393.7" stroke="#2e2e2e" stroke-width="1.35" />
<line x1="634.5" y1="390.8" x2="634.5" y2="396.2" stroke="#2e2e2e" stroke-width="1.35" />
<text x="635" y="408.7" font-size="11.3" text-anchor="middle" font-weight="normal" font-style="normal" fill="#1e1e1e"  stroke="#1e1e1e" stroke-width="0.2">0.5</text>
<text x="531.4" y="427.9" font-size="13.6" text-anchor="middle" font-weight="normal" font-style="normal" fill="#1e1e1e"  stroke="#1e1e1e" stroke-width="0.2">1/[QF]<tspan font-size="8.4" dy="4.8">0</tspan><tspan dy="-4.8">, μM</tspan><tspan font-size="8.2" dy="-5.2">-1</tspan></text>
<text x="361.4" y="318.1" font-size="13.6" text-anchor="start" font-weight="normal" font-style="normal" fill="#1e1e1e"  stroke="#1e1e1e" stroke-width="0.2">1/v<tspan font-size="8.4" dy="4.8">0</tspan><tspan dy="-4.8">,</tspan></text>
<text x="375.8" y="335" font-size="13.6" text-anchor="middle" font-weight="normal" font-style="normal" fill="#1e1e1e"  stroke="#1e1e1e" stroke-width="0.2">s/μM</text>
</svg>
</body></html>
